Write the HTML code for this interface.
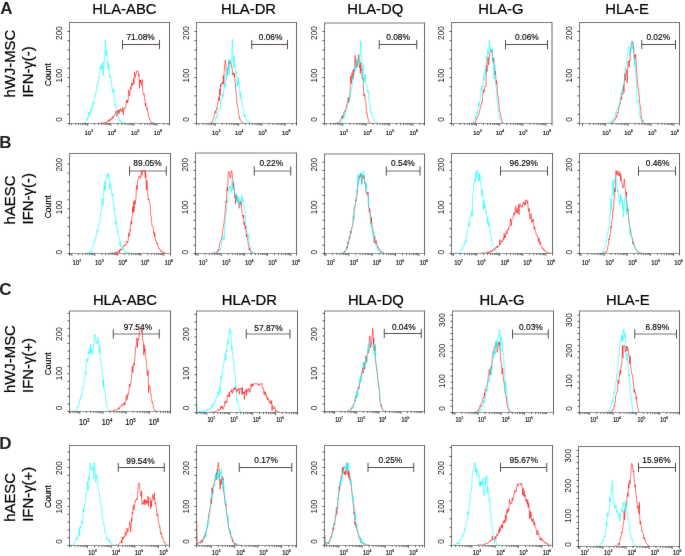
<!DOCTYPE html><html><head><meta charset="utf-8"><style>html,body{margin:0;padding:0;background:#fff;}body{width:685px;height:556px;overflow:hidden;}svg{display:block;}#w{width:685px;height:556px;}</style></head><body><div id="w"><svg width="685" height="556" viewBox="0 0 685 556" font-family='"Liberation Sans", sans-serif'>
<defs><filter id="bl" x="0" y="0" width="685" height="556" filterUnits="userSpaceOnUse" color-interpolation-filters="sRGB"><feConvolveMatrix order="3" kernelMatrix="0.00276 0.04704 0.00276 0.04704 0.80077 0.04704 0.00276 0.04704 0.00276" divisor="1" edgeMode="duplicate"/></filter></defs>
<rect width="685" height="556" fill="#fff"/>
<g filter="url(#bl)">
<text x="124.4" y="13.9" font-size="14.8" text-anchor="middle" fill="#000" stroke="#000" stroke-width="0.22">HLA-ABC</text>
<text x="248.5" y="13.9" font-size="14.8" text-anchor="middle" fill="#000" stroke="#000" stroke-width="0.22">HLA-DR</text>
<text x="375.25" y="13.9" font-size="14.8" text-anchor="middle" fill="#000" stroke="#000" stroke-width="0.22">HLA-DQ</text>
<text x="500.9" y="13.9" font-size="14.8" text-anchor="middle" fill="#000" stroke="#000" stroke-width="0.22">HLA-G</text>
<text x="627.0" y="13.9" font-size="14.8" text-anchor="middle" fill="#000" stroke="#000" stroke-width="0.22">HLA-E</text>
<text x="125.0" y="304.5" font-size="14.8" text-anchor="middle" fill="#000" stroke="#000" stroke-width="0.22">HLA-ABC</text>
<text x="249.4" y="304.5" font-size="14.8" text-anchor="middle" fill="#000" stroke="#000" stroke-width="0.22">HLA-DR</text>
<text x="375.9" y="304.5" font-size="14.8" text-anchor="middle" fill="#000" stroke="#000" stroke-width="0.22">HLA-DQ</text>
<text x="502.0" y="304.5" font-size="14.8" text-anchor="middle" fill="#000" stroke="#000" stroke-width="0.22">HLA-G</text>
<text x="627.75" y="304.5" font-size="14.8" text-anchor="middle" fill="#000" stroke="#000" stroke-width="0.22">HLA-E</text>
<text x="0.3" y="13.8" font-size="17" font-weight="bold" fill="#231f20">A</text>
<text x="-0.8" y="148.2" font-size="17" font-weight="bold" fill="#231f20">B</text>
<text x="-0.8" y="294.9" font-size="17" font-weight="bold" fill="#231f20">C</text>
<text x="-0.8" y="449.3" font-size="17" font-weight="bold" fill="#231f20">D</text>
<text transform="translate(15.4,97.6) rotate(-90)" font-size="14.9" fill="#000" stroke="#000" stroke-width="0.22">hWJ-MSC</text>
<text transform="translate(32.6,97.6) rotate(-90)" font-size="14.9" fill="#000" stroke="#000" stroke-width="0.22">IFN-γ(-)</text>
<text transform="translate(50.8,74.7) rotate(-90)" font-size="8.6" text-anchor="middle" fill="#000" stroke="#000" stroke-width="0.15">Count</text>
<text transform="translate(15.4,224.4) rotate(-90)" font-size="14.9" fill="#000" stroke="#000" stroke-width="0.22">hAESC</text>
<text transform="translate(32.6,224.4) rotate(-90)" font-size="14.9" fill="#000" stroke="#000" stroke-width="0.22">IFN-γ(-)</text>
<text transform="translate(50.8,206.9) rotate(-90)" font-size="8.6" text-anchor="middle" fill="#000" stroke="#000" stroke-width="0.15">Count</text>
<text transform="translate(15.4,393.0) rotate(-90)" font-size="14.9" fill="#000" stroke="#000" stroke-width="0.22">hWJ-MSC</text>
<text transform="translate(32.6,393.0) rotate(-90)" font-size="14.9" fill="#000" stroke="#000" stroke-width="0.22">IFN-γ(+)</text>
<text transform="translate(50.8,363.9) rotate(-90)" font-size="8.6" text-anchor="middle" fill="#000" stroke="#000" stroke-width="0.15">Count</text>
<text transform="translate(15.4,521.8) rotate(-90)" font-size="14.9" fill="#000" stroke="#000" stroke-width="0.22">hAESC</text>
<text transform="translate(32.6,521.8) rotate(-90)" font-size="14.9" fill="#000" stroke="#000" stroke-width="0.22">IFN-γ(+)</text>
<text transform="translate(50.8,496.6) rotate(-90)" font-size="8.6" text-anchor="middle" fill="#000" stroke="#000" stroke-width="0.15">Count</text>
<path d="M99.00,123.00 L99.40,123.00 L99.80,123.00 L100.20,123.00 L100.60,123.00 L101.00,123.00 L101.40,122.99 L101.80,122.98 L102.20,122.98 L102.60,123.00 L103.00,123.00 L103.40,122.87 L103.80,122.86 L104.20,122.95 L104.60,122.38 L105.00,122.70 L105.40,122.56 L105.80,123.00 L106.20,122.55 L106.60,121.77 L107.00,122.83 L107.40,121.74 L107.80,121.40 L108.20,120.41 L108.60,121.40 L109.00,119.82 L109.40,121.32 L109.80,119.07 L110.20,120.24 L110.60,119.49 L111.00,119.53 L111.40,119.66 L111.80,117.62 L112.20,118.64 L112.60,116.52 L113.00,116.81 L113.40,118.23 L113.80,116.67 L114.20,115.24 L114.60,115.80 L115.00,115.15 L115.40,113.08 L115.80,111.16 L116.20,113.59 L116.60,113.31 L117.00,116.46 L117.40,113.34 L117.80,110.02 L118.20,112.77 L118.60,110.27 L119.00,114.25 L119.40,112.29 L119.80,109.37 L120.20,110.78 L120.60,108.65 L121.00,109.99 L121.40,111.40 L121.80,110.35 L122.20,111.71 L122.60,107.62 L123.00,109.32 L123.40,115.00 L123.80,108.62 L124.20,107.63 L124.60,108.59 L125.00,108.94 L125.40,106.08 L125.80,105.83 L126.20,102.51 L126.60,99.99 L127.00,102.96 L127.40,100.26 L127.80,102.28 L128.20,100.55 L128.60,90.22 L129.00,90.23 L129.40,96.12 L129.80,95.50 L130.20,89.87 L130.60,87.04 L131.00,89.28 L131.40,84.10 L131.80,82.88 L132.20,86.18 L132.60,84.77 L133.00,82.22 L133.40,78.42 L133.80,84.54 L134.20,78.51 L134.60,72.06 L135.00,77.80 L135.40,75.96 L135.80,74.18 L136.20,74.09 L136.60,72.79 L137.00,70.77 L137.40,71.28 L137.80,70.60 L138.20,72.91 L138.60,76.19 L139.00,74.04 L139.40,88.25 L139.80,79.95 L140.20,82.49 L140.60,80.07 L141.00,83.65 L141.40,85.47 L141.80,83.78 L142.20,79.27 L142.60,89.33 L143.00,91.95 L143.40,93.41 L143.80,94.93 L144.20,93.94 L144.60,97.93 L145.00,102.10 L145.40,106.30 L145.80,103.12 L146.20,106.64 L146.60,107.78 L147.00,109.83 L147.40,108.10 L147.80,112.67 L148.20,112.74 L148.60,116.15 L149.00,117.04 L149.40,118.89 L149.80,118.86 L150.20,120.52 L150.60,121.32 L151.00,123.00 L151.40,122.87 L151.80,123.00 L152.20,122.66 L152.60,122.79 L153.00,123.00 L153.40,122.62 L153.80,123.00" fill="none" stroke="#ff0000" stroke-width="0.55" stroke-linejoin="round"/>
<path d="M82.50,123.00 L82.90,122.87 L83.30,123.00 L83.70,122.75 L84.10,122.74 L84.50,122.71 L84.90,122.63 L85.30,122.74 L85.70,122.70 L86.10,121.58 L86.50,121.24 L86.90,120.39 L87.30,118.31 L87.70,119.90 L88.10,117.76 L88.50,117.08 L88.90,111.96 L89.30,114.87 L89.70,115.98 L90.10,111.83 L90.50,112.47 L90.90,108.69 L91.30,111.01 L91.70,108.81 L92.10,105.95 L92.50,107.25 L92.90,102.28 L93.30,104.35 L93.70,104.77 L94.10,100.43 L94.50,99.82 L94.90,96.12 L95.30,96.08 L95.70,93.06 L96.10,93.92 L96.50,89.09 L96.90,85.16 L97.30,86.05 L97.70,83.43 L98.10,83.80 L98.50,79.37 L98.90,77.38 L99.30,77.62 L99.70,71.56 L100.10,69.62 L100.50,66.44 L100.90,69.41 L101.30,66.87 L101.70,64.59 L102.10,68.77 L102.50,64.91 L102.90,62.21 L103.30,75.49 L103.70,64.80 L104.10,62.41 L104.50,58.82 L104.90,53.88 L105.40,39.90 L105.70,48.10 L106.10,55.76 L106.50,49.78 L106.90,55.29 L107.30,63.57 L107.70,62.71 L108.10,68.98 L108.50,63.91 L108.90,67.11 L109.30,71.96 L109.70,76.43 L110.10,77.91 L110.50,75.68 L110.90,78.71 L111.30,84.11 L111.70,83.59 L112.10,89.27 L112.50,88.65 L112.90,92.78 L113.30,92.62 L113.70,88.94 L114.10,98.06 L114.50,101.40 L114.90,105.87 L115.30,104.18 L115.70,106.32 L116.10,106.77 L116.50,113.20 L116.90,112.43 L117.30,114.54 L117.70,115.89 L118.10,116.63 L118.50,115.97 L118.90,117.82 L119.30,119.22 L119.70,121.21 L120.10,119.51 L120.50,121.50 L120.90,120.90 L121.30,122.43 L121.70,122.33 L122.10,122.11 L122.50,122.31 L122.90,122.44 L123.30,123.00 L123.70,122.76 L124.10,123.00 L124.50,122.59 L124.90,122.70 L125.30,122.98 L125.70,123.00" fill="none" stroke="#00ffff" stroke-width="0.55" stroke-linejoin="round"/>
<path d="M69.5,22.5 H169.5" stroke="#7a7a7a" stroke-width="1" fill="none"/>
<path d="M69.5,123.5 H169.5" stroke="#9a9a9a" stroke-width="1" fill="none"/>
<path d="M69.5,22.0 V125.5" stroke="#7a7a7a" stroke-width="1" fill="none"/>
<path d="M169.5,22.0 V125.5" stroke="#666666" stroke-width="1" fill="none"/>
<path d="M67.5,123.5 H69.5 M67.5,114.3 H69.5 M67.5,105.1 H69.5 M67.5,95.9 H69.5 M67.5,86.7 H69.5 M67.5,77.5 H69.5 M67.5,68.3 H69.5 M67.5,59.1 H69.5 M67.5,49.9 H69.5 M67.5,40.7 H69.5 M67.5,31.5 H69.5" stroke="#333" stroke-width="0.8" fill="none"/>
<text transform="translate(62.3,33.0) rotate(-90)" font-size="8.3" text-anchor="middle" fill="#222">200</text>
<text transform="translate(62.3,75.5) rotate(-90)" font-size="8.3" text-anchor="middle" fill="#222">100</text>
<text transform="translate(62.3,119.4) rotate(-90)" font-size="8.3" text-anchor="middle" fill="#222">0</text>
<path d="M71.6,123.5 V125.1 M75.7,123.5 V125.1 M78.6,123.5 V125.1 M80.8,123.5 V125.1 M82.6,123.5 V125.1 M84.2,123.5 V125.1 M85.5,123.5 V125.1 M86.7,123.5 V125.1 M94.7,123.5 V125.1 M98.7,123.5 V125.1 M101.6,123.5 V125.1 M103.9,123.5 V125.1 M105.7,123.5 V125.1 M107.2,123.5 V125.1 M108.6,123.5 V125.1 M109.7,123.5 V125.1 M87.8,123.5 V126.0 M117.7,123.5 V125.1 M121.8,123.5 V125.1 M124.7,123.5 V125.1 M126.9,123.5 V125.1 M128.7,123.5 V125.1 M130.3,123.5 V125.1 M131.6,123.5 V125.1 M132.8,123.5 V125.1 M110.8,123.5 V126.0 M140.8,123.5 V125.1 M144.8,123.5 V125.1 M147.7,123.5 V125.1 M149.9,123.5 V125.1 M151.8,123.5 V125.1 M153.3,123.5 V125.1 M154.6,123.5 V125.1 M155.8,123.5 V125.1 M133.8,123.5 V126.0 M163.8,123.5 V125.1 M167.9,123.5 V125.1 M156.9,123.5 V126.0" stroke="#333" stroke-width="0.7" fill="none"/>
<text transform="translate(88.75,134.93) scale(0.95,1)" font-size="6.2" text-anchor="middle" fill="#000" stroke="#000" stroke-width="0.15">10<tspan font-size="3.72" dy="-2.48">3</tspan></text>
<text transform="translate(111.75,134.93) scale(0.95,1)" font-size="6.2" text-anchor="middle" fill="#000" stroke="#000" stroke-width="0.15">10<tspan font-size="3.72" dy="-2.48">4</tspan></text>
<text transform="translate(135.25,134.93) scale(0.95,1)" font-size="6.2" text-anchor="middle" fill="#000" stroke="#000" stroke-width="0.15">10<tspan font-size="3.72" dy="-2.48">5</tspan></text>
<text transform="translate(157.88,134.93) scale(0.95,1)" font-size="6.2" text-anchor="middle" fill="#000" stroke="#000" stroke-width="0.15">10<tspan font-size="3.72" dy="-2.48">6</tspan></text>
<path d="M122.5,44.5 H159.5" stroke="#5a4c4c" stroke-width="1" fill="none"/>
<path d="M122.5,39.9 V49.1 M159.5,39.9 V49.1" stroke="#5a4c4c" stroke-width="1" fill="none"/>
<text transform="translate(140.6,39.95) scale(0.9,1)" font-size="9.3" text-anchor="middle" fill="#000" stroke="#000" stroke-width="0.15">71.08%</text>
<path d="M209.00,123.00 L209.40,123.00 L209.80,123.00 L210.20,123.00 L210.60,123.00 L211.00,123.00 L211.40,122.98 L211.80,122.19 L212.20,121.18 L212.60,119.98 L213.00,119.71 L213.40,118.41 L213.80,117.42 L214.20,116.59 L214.60,114.76 L215.00,111.56 L215.40,110.96 L215.80,113.11 L216.20,110.67 L216.60,108.25 L217.00,109.01 L217.40,105.37 L217.80,102.41 L218.20,102.48 L218.60,97.11 L219.00,96.65 L219.40,100.82 L219.80,88.75 L220.20,95.48 L220.60,84.41 L221.00,86.72 L221.40,83.34 L221.80,82.93 L222.20,82.26 L222.60,83.93 L223.00,80.99 L223.40,75.52 L223.80,84.55 L224.20,70.91 L224.60,65.48 L225.00,63.57 L225.30,59.90 L225.80,63.73 L226.20,71.56 L226.60,71.97 L227.00,73.21 L227.40,74.90 L227.80,68.90 L228.20,67.99 L228.60,62.93 L229.00,61.86 L229.40,61.02 L229.80,64.11 L230.20,61.31 L230.80,61.60 L231.40,66.85 L231.80,66.47 L232.20,68.74 L232.60,74.98 L233.00,73.85 L233.40,72.68 L233.80,74.88 L234.20,77.06 L234.60,73.49 L235.00,81.70 L235.40,82.17 L235.80,89.72 L236.20,93.93 L236.60,96.70 L237.00,104.15 L237.40,105.60 L237.80,107.74 L238.20,110.07 L238.60,113.52 L239.00,115.09 L239.40,118.46 L239.80,117.39 L240.20,119.59 L240.60,120.14 L241.00,120.48 L241.40,122.02 L241.80,122.03 L242.20,122.64 L242.60,122.99 L243.00,123.00 L243.40,123.00 L243.80,123.00" fill="none" stroke="#ff0000" stroke-width="0.55" stroke-linejoin="round"/>
<path d="M210.50,123.00 L210.90,123.00 L211.30,123.00 L211.70,123.00 L212.10,123.00 L212.50,123.00 L212.90,123.00 L213.30,122.91 L213.70,122.76 L214.10,121.33 L214.50,121.09 L214.90,121.46 L215.30,120.00 L215.70,118.61 L216.10,117.32 L216.50,116.89 L216.90,118.02 L217.30,114.06 L217.70,115.27 L218.10,111.66 L218.50,109.76 L218.90,109.73 L219.30,109.07 L219.70,109.34 L220.10,107.81 L220.50,104.68 L220.90,100.68 L221.30,101.15 L221.70,98.04 L222.10,98.33 L222.50,93.69 L222.90,97.18 L223.30,94.27 L223.70,90.10 L224.10,89.18 L224.50,83.40 L224.90,87.36 L225.30,85.44 L225.70,86.20 L226.10,74.67 L226.50,79.34 L226.90,75.38 L227.30,67.18 L227.70,75.02 L228.10,68.41 L228.50,68.79 L228.90,58.93 L229.30,74.77 L229.70,64.39 L230.10,62.07 L230.50,60.20 L230.90,61.32 L231.30,59.65 L231.70,58.17 L232.10,44.87 L232.50,39.40 L232.90,48.28 L233.30,67.57 L233.70,57.52 L234.10,55.54 L234.50,61.67 L234.90,66.99 L235.30,65.77 L235.70,74.16 L236.10,71.74 L236.50,71.73 L236.90,73.88 L237.30,86.75 L237.70,80.32 L238.10,77.48 L238.50,84.51 L238.90,81.73 L239.30,85.80 L239.70,89.84 L240.10,96.82 L240.50,92.33 L240.90,98.74 L241.30,97.32 L241.70,100.51 L242.10,101.83 L242.50,106.65 L242.90,107.64 L243.30,109.45 L243.70,111.12 L244.10,117.01 L244.50,114.27 L244.90,114.79 L245.30,115.73 L245.70,117.73 L246.10,118.77 L246.50,119.75 L246.90,120.00 L247.30,121.46 L247.70,121.01 L248.10,121.72 L248.50,121.91 L248.90,121.57 L249.30,122.62 L249.70,122.33 L250.10,122.51 L250.50,122.87 L250.90,122.94 L251.30,123.00 L251.70,122.97" fill="none" stroke="#00ffff" stroke-width="0.55" stroke-linejoin="round"/>
<path d="M196.5,22.5 H296.5" stroke="#7a7a7a" stroke-width="1" fill="none"/>
<path d="M196.5,123.5 H296.5" stroke="#9a9a9a" stroke-width="1" fill="none"/>
<path d="M196.5,22.0 V125.5" stroke="#7a7a7a" stroke-width="1" fill="none"/>
<path d="M296.5,22.0 V125.5" stroke="#666666" stroke-width="1" fill="none"/>
<path d="M194.5,123.5 H196.5 M194.5,114.3 H196.5 M194.5,105.1 H196.5 M194.5,95.9 H196.5 M194.5,86.7 H196.5 M194.5,77.5 H196.5 M194.5,68.3 H196.5 M194.5,59.1 H196.5 M194.5,49.9 H196.5 M194.5,40.7 H196.5 M194.5,31.5 H196.5" stroke="#333" stroke-width="0.8" fill="none"/>
<text transform="translate(189.3,33.0) rotate(-90)" font-size="8.3" text-anchor="middle" fill="#222">200</text>
<text transform="translate(189.3,75.5) rotate(-90)" font-size="8.3" text-anchor="middle" fill="#222">100</text>
<text transform="translate(189.3,119.4) rotate(-90)" font-size="8.3" text-anchor="middle" fill="#222">0</text>
<path d="M198.9,123.5 V125.1 M203.0,123.5 V125.1 M206.0,123.5 V125.1 M208.2,123.5 V125.1 M210.1,123.5 V125.1 M211.6,123.5 V125.1 M213.0,123.5 V125.1 M214.2,123.5 V125.1 M222.3,123.5 V125.1 M226.4,123.5 V125.1 M229.3,123.5 V125.1 M231.6,123.5 V125.1 M233.4,123.5 V125.1 M235.0,123.5 V125.1 M236.3,123.5 V125.1 M237.5,123.5 V125.1 M215.2,123.5 V126.0 M245.6,123.5 V125.1 M249.7,123.5 V125.1 M252.6,123.5 V125.1 M254.9,123.5 V125.1 M256.7,123.5 V125.1 M258.3,123.5 V125.1 M259.7,123.5 V125.1 M260.8,123.5 V125.1 M238.6,123.5 V126.0 M268.9,123.5 V125.1 M273.0,123.5 V125.1 M276.0,123.5 V125.1 M278.2,123.5 V125.1 M280.1,123.5 V125.1 M281.6,123.5 V125.1 M283.0,123.5 V125.1 M284.2,123.5 V125.1 M261.9,123.5 V126.0 M292.3,123.5 V125.1 M296.4,123.5 V125.1 M285.2,123.5 V126.0" stroke="#333" stroke-width="0.7" fill="none"/>
<text transform="translate(216.25,134.93) scale(0.95,1)" font-size="6.2" text-anchor="middle" fill="#000" stroke="#000" stroke-width="0.15">10<tspan font-size="3.72" dy="-2.48">3</tspan></text>
<text transform="translate(239.25,134.93) scale(0.95,1)" font-size="6.2" text-anchor="middle" fill="#000" stroke="#000" stroke-width="0.15">10<tspan font-size="3.72" dy="-2.48">4</tspan></text>
<text transform="translate(262.50,134.93) scale(0.95,1)" font-size="6.2" text-anchor="middle" fill="#000" stroke="#000" stroke-width="0.15">10<tspan font-size="3.72" dy="-2.48">5</tspan></text>
<text transform="translate(286.25,134.93) scale(0.95,1)" font-size="6.2" text-anchor="middle" fill="#000" stroke="#000" stroke-width="0.15">10<tspan font-size="3.72" dy="-2.48">6</tspan></text>
<path d="M251.75,44.5 H287.5" stroke="#5a4c4c" stroke-width="1" fill="none"/>
<path d="M251.75,39.9 V49.1 M287.5,39.9 V49.1" stroke="#5a4c4c" stroke-width="1" fill="none"/>
<text transform="translate(270.6,39.85) scale(0.9,1)" font-size="9.3" text-anchor="middle" fill="#000" stroke="#000" stroke-width="0.15">0.06%</text>
<path d="M335.50,123.00 L335.90,123.00 L336.30,123.00 L336.70,123.00 L337.10,123.00 L337.50,122.97 L337.90,122.79 L338.30,122.69 L338.70,122.54 L339.10,121.86 L339.50,121.32 L339.90,120.27 L340.30,119.38 L340.70,118.90 L341.10,118.54 L341.50,118.20 L341.90,116.02 L342.30,118.60 L342.70,115.75 L343.10,116.97 L343.50,114.17 L343.90,111.80 L344.30,112.04 L344.70,111.34 L345.10,112.36 L345.50,109.27 L345.90,109.06 L346.30,105.57 L346.70,106.06 L347.10,103.88 L347.50,103.75 L347.90,98.66 L348.30,97.30 L348.70,102.59 L349.10,97.96 L349.50,97.81 L349.90,94.85 L350.30,84.56 L350.70,75.99 L351.10,81.92 L351.50,83.69 L351.90,73.22 L352.30,78.89 L352.70,76.48 L353.10,70.00 L353.50,77.94 L353.90,69.33 L354.30,71.42 L354.70,64.68 L355.10,55.38 L355.50,63.86 L355.90,65.87 L356.30,67.87 L356.70,59.78 L357.10,66.33 L357.50,64.58 L357.90,65.23 L358.30,57.95 L358.60,54.70 L359.10,59.24 L359.50,67.49 L359.90,65.25 L360.30,73.38 L360.70,62.38 L361.10,69.93 L361.50,68.79 L361.90,76.13 L362.30,79.21 L362.70,78.15 L363.10,80.18 L363.50,88.05 L363.90,96.00 L364.30,95.68 L364.70,93.89 L365.10,100.12 L365.50,100.77 L365.90,102.29 L366.30,108.56 L366.70,113.33 L367.10,113.00 L367.50,115.74 L367.90,117.97 L368.30,120.13 L368.70,120.28 L369.10,121.75 L369.50,122.61 L369.90,123.00 L370.30,123.00 L370.70,123.00" fill="none" stroke="#ff0000" stroke-width="0.55" stroke-linejoin="round"/>
<path d="M336.50,123.00 L336.90,123.00 L337.30,123.00 L337.70,123.00 L338.10,123.00 L338.50,123.00 L338.90,122.99 L339.30,122.80 L339.70,122.84 L340.10,122.84 L340.50,122.33 L340.90,121.03 L341.30,122.06 L341.70,121.29 L342.10,120.44 L342.50,119.66 L342.90,119.76 L343.30,117.51 L343.70,115.59 L344.10,118.23 L344.50,114.35 L344.90,113.11 L345.30,114.92 L345.70,113.07 L346.10,111.27 L346.50,110.23 L346.90,110.92 L347.30,109.35 L347.70,105.23 L348.10,104.64 L348.50,102.78 L348.90,100.61 L349.30,97.24 L349.70,101.50 L350.10,93.93 L350.50,94.99 L350.90,93.64 L351.30,90.07 L351.70,89.07 L352.10,84.94 L352.50,80.45 L352.90,76.07 L353.30,80.01 L353.70,73.80 L354.10,74.17 L354.50,74.08 L354.90,66.31 L355.30,70.61 L355.70,71.10 L356.10,69.70 L356.50,58.77 L356.90,67.10 L357.30,67.41 L357.70,60.46 L358.10,61.04 L358.50,62.53 L358.90,62.76 L359.30,58.35 L359.70,62.87 L360.10,51.22 L360.70,41.00 L361.30,54.65 L361.70,58.90 L362.10,62.94 L362.50,75.56 L362.90,67.95 L363.30,64.49 L363.70,82.20 L364.10,75.86 L364.50,81.84 L364.90,78.19 L365.30,74.04 L365.70,83.09 L366.10,84.44 L366.50,83.73 L366.90,85.01 L367.30,91.49 L367.70,92.81 L368.10,90.34 L368.50,92.60 L368.90,100.33 L369.30,102.15 L369.70,105.32 L370.10,105.22 L370.50,110.96 L370.90,112.96 L371.30,112.12 L371.70,111.94 L372.10,116.68 L372.50,116.66 L372.90,117.33 L373.30,117.71 L373.70,119.68 L374.10,119.36 L374.50,121.60 L374.90,121.86 L375.30,122.27 L375.70,122.61 L376.10,123.00 L376.50,123.00 L376.90,123.00 L377.30,123.00 L377.70,123.00" fill="none" stroke="#00ffff" stroke-width="0.55" stroke-linejoin="round"/>
<path d="M324.5,23.0 H424.5" stroke="#7a7a7a" stroke-width="1" fill="none"/>
<path d="M324.5,123.5 H424.5" stroke="#9a9a9a" stroke-width="1" fill="none"/>
<path d="M324.5,22.5 V125.5" stroke="#7a7a7a" stroke-width="1" fill="none"/>
<path d="M424.5,22.5 V125.5" stroke="#666666" stroke-width="1" fill="none"/>
<path d="M322.5,123.5 H324.5 M322.5,114.3 H324.5 M322.5,105.1 H324.5 M322.5,95.9 H324.5 M322.5,86.7 H324.5 M322.5,77.5 H324.5 M322.5,68.3 H324.5 M322.5,59.1 H324.5 M322.5,49.9 H324.5 M322.5,40.7 H324.5 M322.5,31.5 H324.5" stroke="#333" stroke-width="0.8" fill="none"/>
<text transform="translate(317.3,33.0) rotate(-90)" font-size="8.3" text-anchor="middle" fill="#222">200</text>
<text transform="translate(317.3,75.5) rotate(-90)" font-size="8.3" text-anchor="middle" fill="#222">100</text>
<text transform="translate(317.3,119.4) rotate(-90)" font-size="8.3" text-anchor="middle" fill="#222">0</text>
<path d="M326.4,123.5 V125.1 M330.5,123.5 V125.1 M333.5,123.5 V125.1 M335.7,123.5 V125.1 M337.6,123.5 V125.1 M339.1,123.5 V125.1 M340.5,123.5 V125.1 M341.7,123.5 V125.1 M349.8,123.5 V125.1 M353.9,123.5 V125.1 M356.8,123.5 V125.1 M359.1,123.5 V125.1 M360.9,123.5 V125.1 M362.5,123.5 V125.1 M363.8,123.5 V125.1 M365.0,123.5 V125.1 M342.8,123.5 V126.0 M373.1,123.5 V125.1 M377.2,123.5 V125.1 M380.1,123.5 V125.1 M382.4,123.5 V125.1 M384.2,123.5 V125.1 M385.8,123.5 V125.1 M387.2,123.5 V125.1 M388.3,123.5 V125.1 M366.1,123.5 V126.0 M396.4,123.5 V125.1 M400.5,123.5 V125.1 M403.5,123.5 V125.1 M405.7,123.5 V125.1 M407.6,123.5 V125.1 M409.1,123.5 V125.1 M410.5,123.5 V125.1 M411.7,123.5 V125.1 M389.4,123.5 V126.0 M419.8,123.5 V125.1 M423.9,123.5 V125.1 M412.8,123.5 V126.0" stroke="#333" stroke-width="0.7" fill="none"/>
<text transform="translate(343.75,134.93) scale(0.95,1)" font-size="6.2" text-anchor="middle" fill="#000" stroke="#000" stroke-width="0.15">10<tspan font-size="3.72" dy="-2.48">3</tspan></text>
<text transform="translate(367.50,134.93) scale(0.95,1)" font-size="6.2" text-anchor="middle" fill="#000" stroke="#000" stroke-width="0.15">10<tspan font-size="3.72" dy="-2.48">4</tspan></text>
<text transform="translate(390.00,134.93) scale(0.95,1)" font-size="6.2" text-anchor="middle" fill="#000" stroke="#000" stroke-width="0.15">10<tspan font-size="3.72" dy="-2.48">5</tspan></text>
<text transform="translate(413.75,134.93) scale(0.95,1)" font-size="6.2" text-anchor="middle" fill="#000" stroke="#000" stroke-width="0.15">10<tspan font-size="3.72" dy="-2.48">6</tspan></text>
<path d="M379.25,44.5 H416.75" stroke="#5a4c4c" stroke-width="1" fill="none"/>
<path d="M379.25,39.9 V49.1 M416.75,39.9 V49.1" stroke="#5a4c4c" stroke-width="1" fill="none"/>
<text transform="translate(398.1,39.85) scale(0.9,1)" font-size="9.3" text-anchor="middle" fill="#000" stroke="#000" stroke-width="0.15">0.08%</text>
<path d="M473.00,123.00 L473.40,123.00 L473.80,123.00 L474.20,123.00 L474.60,123.00 L475.00,122.99 L475.40,121.95 L475.80,122.05 L476.20,119.45 L476.60,117.95 L477.00,118.41 L477.40,116.95 L477.80,116.31 L478.20,115.38 L478.60,114.55 L479.00,114.34 L479.40,110.58 L479.80,110.15 L480.20,108.28 L480.60,105.98 L481.00,104.58 L481.40,104.52 L481.80,102.06 L482.20,102.47 L482.60,97.57 L483.00,91.88 L483.40,89.57 L483.80,92.45 L484.20,91.91 L484.60,87.77 L485.00,86.30 L485.40,86.12 L485.80,86.63 L486.20,76.30 L486.60,65.05 L487.00,71.74 L487.40,62.68 L487.80,58.36 L488.20,56.98 L488.60,64.91 L489.00,59.88 L489.40,56.03 L489.80,54.02 L490.20,52.40 L490.60,51.46 L491.00,50.50 L491.40,51.81 L491.80,50.08 L492.20,51.60 L492.60,61.53 L493.00,59.30 L493.40,62.28 L493.80,57.95 L494.20,63.45 L494.60,65.38 L495.00,74.69 L495.40,71.15 L495.80,77.19 L496.20,84.40 L496.60,80.53 L497.00,82.29 L497.40,91.63 L497.80,95.14 L498.20,98.60 L498.60,101.02 L499.00,105.37 L499.40,110.31 L499.80,111.41 L500.20,112.69 L500.60,115.18 L501.00,117.07 L501.40,119.34 L501.80,119.05 L502.20,122.03 L502.60,122.57 L503.00,123.00 L503.40,123.00 L503.80,123.00 L504.20,123.00" fill="none" stroke="#ff0000" stroke-width="0.55" stroke-linejoin="round"/>
<path d="M470.00,123.00 L470.40,123.00 L470.80,123.00 L471.20,123.00 L471.60,123.00 L472.00,123.00 L472.40,123.00 L472.80,123.00 L473.20,122.38 L473.60,121.36 L474.00,120.21 L474.40,119.82 L474.80,119.82 L475.20,118.38 L475.60,116.15 L476.00,117.48 L476.40,116.27 L476.80,111.90 L477.20,114.06 L477.60,110.58 L478.00,107.07 L478.40,105.87 L478.80,102.70 L479.20,105.92 L479.60,103.35 L480.00,100.67 L480.40,98.23 L480.80,92.60 L481.20,87.42 L481.60,90.42 L482.00,85.17 L482.40,86.68 L482.80,86.89 L483.20,82.09 L483.60,75.40 L484.00,80.21 L484.40,72.13 L484.80,71.75 L485.20,69.33 L485.60,75.19 L486.00,62.21 L486.40,56.53 L486.80,57.92 L487.20,59.17 L487.60,49.00 L488.00,49.44 L488.40,54.46 L488.80,50.16 L489.30,40.20 L489.60,42.71 L490.00,51.17 L490.40,50.46 L490.80,48.67 L491.40,47.10 L492.00,51.19 L492.40,49.20 L492.80,61.87 L493.20,57.32 L493.60,64.71 L494.00,78.83 L494.40,63.37 L494.80,67.29 L495.20,76.13 L495.60,81.04 L496.00,80.96 L496.40,92.02 L496.80,94.38 L497.20,101.48 L497.60,103.03 L498.00,107.27 L498.40,109.76 L498.80,112.83 L499.20,118.10 L499.60,118.81 L500.00,118.59 L500.40,119.58 L500.80,121.11 L501.20,121.49 L501.60,123.00 L502.00,122.95 L502.40,123.00 L502.80,123.00 L503.20,123.00" fill="none" stroke="#00ffff" stroke-width="0.55" stroke-linejoin="round"/>
<path d="M451.5,22.5 H552.0" stroke="#7a7a7a" stroke-width="1" fill="none"/>
<path d="M451.5,123.5 H552.0" stroke="#9a9a9a" stroke-width="1" fill="none"/>
<path d="M451.5,22.0 V125.5" stroke="#7a7a7a" stroke-width="1" fill="none"/>
<path d="M552.0,22.0 V125.5" stroke="#666666" stroke-width="1" fill="none"/>
<path d="M449.5,123.5 H451.5 M449.5,114.3 H451.5 M449.5,105.1 H451.5 M449.5,95.9 H451.5 M449.5,86.7 H451.5 M449.5,77.5 H451.5 M449.5,68.3 H451.5 M449.5,59.1 H451.5 M449.5,49.9 H451.5 M449.5,40.7 H451.5 M449.5,31.5 H451.5" stroke="#333" stroke-width="0.8" fill="none"/>
<text transform="translate(444.3,33.0) rotate(-90)" font-size="8.3" text-anchor="middle" fill="#222">200</text>
<text transform="translate(444.3,75.5) rotate(-90)" font-size="8.3" text-anchor="middle" fill="#222">100</text>
<text transform="translate(444.3,119.4) rotate(-90)" font-size="8.3" text-anchor="middle" fill="#222">0</text>
<path d="M460.3,123.5 V125.1 M464.4,123.5 V125.1 M467.3,123.5 V125.1 M469.5,123.5 V125.1 M471.4,123.5 V125.1 M472.9,123.5 V125.1 M474.3,123.5 V125.1 M475.4,123.5 V125.1 M453.3,123.5 V126.0 M483.5,123.5 V125.1 M487.6,123.5 V125.1 M490.4,123.5 V125.1 M492.7,123.5 V125.1 M494.5,123.5 V125.1 M496.1,123.5 V125.1 M497.4,123.5 V125.1 M498.6,123.5 V125.1 M476.5,123.5 V126.0 M506.6,123.5 V125.1 M510.7,123.5 V125.1 M513.6,123.5 V125.1 M515.9,123.5 V125.1 M517.7,123.5 V125.1 M519.2,123.5 V125.1 M520.6,123.5 V125.1 M521.8,123.5 V125.1 M499.7,123.5 V126.0 M529.8,123.5 V125.1 M533.9,123.5 V125.1 M536.8,123.5 V125.1 M539.0,123.5 V125.1 M540.9,123.5 V125.1 M542.4,123.5 V125.1 M543.8,123.5 V125.1 M544.9,123.5 V125.1 M522.8,123.5 V126.0 M546.0,123.5 V126.0" stroke="#333" stroke-width="0.7" fill="none"/>
<text transform="translate(477.50,134.93) scale(0.95,1)" font-size="6.2" text-anchor="middle" fill="#000" stroke="#000" stroke-width="0.15">10<tspan font-size="3.72" dy="-2.48">3</tspan></text>
<text transform="translate(500.00,134.93) scale(0.95,1)" font-size="6.2" text-anchor="middle" fill="#000" stroke="#000" stroke-width="0.15">10<tspan font-size="3.72" dy="-2.48">4</tspan></text>
<text transform="translate(523.12,134.93) scale(0.95,1)" font-size="6.2" text-anchor="middle" fill="#000" stroke="#000" stroke-width="0.15">10<tspan font-size="3.72" dy="-2.48">5</tspan></text>
<text transform="translate(547.00,134.93) scale(0.95,1)" font-size="6.2" text-anchor="middle" fill="#000" stroke="#000" stroke-width="0.15">10<tspan font-size="3.72" dy="-2.48">6</tspan></text>
<path d="M505.5,44.5 H547.5" stroke="#5a4c4c" stroke-width="1" fill="none"/>
<path d="M505.5,39.9 V49.1 M547.5,39.9 V49.1" stroke="#5a4c4c" stroke-width="1" fill="none"/>
<text transform="translate(526.9,39.85) scale(0.9,1)" font-size="9.3" text-anchor="middle" fill="#000" stroke="#000" stroke-width="0.15">0.06%</text>
<path d="M610.00,123.00 L610.40,123.00 L610.80,123.00 L611.20,123.00 L611.60,123.00 L612.00,122.98 L612.40,122.82 L612.80,122.31 L613.20,122.20 L613.60,121.91 L614.00,120.24 L614.40,119.81 L614.80,120.25 L615.20,119.46 L615.60,117.99 L616.00,117.67 L616.40,116.09 L616.80,117.43 L617.20,114.45 L617.60,112.56 L618.00,113.02 L618.40,110.66 L618.80,108.11 L619.20,106.71 L619.60,105.66 L620.00,104.05 L620.40,102.92 L620.80,100.56 L621.20,97.03 L621.60,99.28 L622.00,94.29 L622.40,92.93 L622.80,94.26 L623.20,89.96 L623.60,85.42 L624.00,92.51 L624.40,80.16 L624.80,73.51 L625.20,80.66 L625.60,76.83 L626.00,73.82 L626.40,69.86 L626.80,70.00 L627.20,83.17 L627.60,73.23 L628.00,64.60 L628.40,61.08 L628.80,62.16 L629.20,67.30 L629.60,59.78 L630.00,60.95 L630.40,52.99 L630.80,47.84 L631.20,43.48 L631.60,42.85 L632.10,41.10 L632.40,42.22 L632.80,42.68 L633.20,49.08 L633.60,46.19 L634.00,54.36 L634.40,59.74 L634.80,55.57 L635.20,57.16 L635.60,54.10 L636.00,59.55 L636.40,66.31 L636.80,73.18 L637.20,78.05 L637.60,82.14 L638.00,87.53 L638.40,88.91 L638.80,94.07 L639.20,94.80 L639.60,101.84 L640.00,104.48 L640.40,106.50 L640.80,109.78 L641.20,114.95 L641.60,117.65 L642.00,119.12 L642.40,121.18 L642.80,120.24 L643.20,122.73 L643.60,123.00 L644.00,123.00 L644.40,123.00 L644.80,123.00" fill="none" stroke="#ff0000" stroke-width="0.55" stroke-linejoin="round"/>
<path d="M607.00,123.00 L607.40,123.00 L607.80,123.00 L608.20,123.00 L608.60,123.00 L609.00,123.00 L609.40,123.00 L609.80,122.94 L610.20,122.67 L610.60,122.69 L611.00,121.98 L611.40,121.17 L611.80,122.76 L612.20,120.47 L612.60,120.66 L613.00,119.73 L613.40,117.96 L613.80,119.96 L614.20,117.53 L614.60,117.18 L615.00,116.53 L615.40,116.47 L615.80,111.64 L616.20,112.88 L616.60,112.16 L617.00,109.82 L617.40,108.69 L617.80,107.09 L618.20,108.24 L618.60,108.08 L619.00,102.70 L619.40,103.16 L619.80,101.40 L620.20,100.42 L620.60,95.68 L621.00,93.21 L621.40,92.07 L621.80,95.11 L622.20,89.27 L622.60,91.28 L623.00,85.23 L623.40,83.91 L623.80,82.85 L624.20,83.16 L624.60,76.00 L625.00,73.29 L625.40,68.42 L625.80,70.06 L626.20,63.76 L626.60,63.58 L627.00,59.59 L627.40,58.55 L627.80,55.81 L628.20,48.19 L628.50,46.20 L629.00,51.49 L629.40,51.85 L629.80,55.03 L630.20,52.50 L630.60,48.34 L631.00,51.50 L631.40,49.31 L631.80,43.10 L632.40,41.90 L633.00,46.54 L633.40,42.18 L633.80,53.03 L634.20,54.12 L634.60,66.72 L635.00,58.51 L635.40,68.87 L635.80,75.81 L636.20,78.07 L636.60,85.65 L637.00,99.01 L637.40,102.05 L637.80,100.93 L638.20,101.20 L638.60,105.47 L639.00,107.46 L639.40,110.44 L639.80,113.13 L640.20,118.22 L640.60,116.20 L641.00,120.10 L641.40,122.35 L641.80,123.00 L642.20,123.00 L642.60,123.00 L643.00,123.00" fill="none" stroke="#00ffff" stroke-width="0.55" stroke-linejoin="round"/>
<path d="M579.5,22.5 H679.5" stroke="#7a7a7a" stroke-width="1" fill="none"/>
<path d="M579.5,123.5 H679.5" stroke="#9a9a9a" stroke-width="1" fill="none"/>
<path d="M579.5,22.0 V125.5" stroke="#7a7a7a" stroke-width="1" fill="none"/>
<path d="M679.5,22.0 V125.5" stroke="#666666" stroke-width="1" fill="none"/>
<path d="M577.5,123.5 H579.5 M577.5,114.3 H579.5 M577.5,105.1 H579.5 M577.5,95.9 H579.5 M577.5,86.7 H579.5 M577.5,77.5 H579.5 M577.5,68.3 H579.5 M577.5,59.1 H579.5 M577.5,49.9 H579.5 M577.5,40.7 H579.5 M577.5,31.5 H579.5" stroke="#333" stroke-width="0.8" fill="none"/>
<text transform="translate(572.3,33.0) rotate(-90)" font-size="8.3" text-anchor="middle" fill="#222">200</text>
<text transform="translate(572.3,75.5) rotate(-90)" font-size="8.3" text-anchor="middle" fill="#222">100</text>
<text transform="translate(572.3,119.4) rotate(-90)" font-size="8.3" text-anchor="middle" fill="#222">0</text>
<path d="M589.4,123.5 V125.1 M593.5,123.5 V125.1 M596.3,123.5 V125.1 M598.5,123.5 V125.1 M600.3,123.5 V125.1 M601.8,123.5 V125.1 M603.2,123.5 V125.1 M604.3,123.5 V125.1 M582.6,123.5 V126.0 M612.2,123.5 V125.1 M616.2,123.5 V125.1 M619.1,123.5 V125.1 M621.3,123.5 V125.1 M623.1,123.5 V125.1 M624.6,123.5 V125.1 M626.0,123.5 V125.1 M627.1,123.5 V125.1 M605.4,123.5 V126.0 M635.0,123.5 V125.1 M639.0,123.5 V125.1 M641.9,123.5 V125.1 M644.1,123.5 V125.1 M645.9,123.5 V125.1 M647.4,123.5 V125.1 M648.7,123.5 V125.1 M649.9,123.5 V125.1 M628.2,123.5 V126.0 M657.8,123.5 V125.1 M661.8,123.5 V125.1 M664.7,123.5 V125.1 M666.9,123.5 V125.1 M668.7,123.5 V125.1 M670.2,123.5 V125.1 M671.5,123.5 V125.1 M672.7,123.5 V125.1 M651.0,123.5 V126.0 M673.8,123.5 V126.0" stroke="#333" stroke-width="0.7" fill="none"/>
<text transform="translate(606.38,134.93) scale(0.95,1)" font-size="6.2" text-anchor="middle" fill="#000" stroke="#000" stroke-width="0.15">10<tspan font-size="3.72" dy="-2.48">3</tspan></text>
<text transform="translate(628.50,134.93) scale(0.95,1)" font-size="6.2" text-anchor="middle" fill="#000" stroke="#000" stroke-width="0.15">10<tspan font-size="3.72" dy="-2.48">4</tspan></text>
<text transform="translate(652.25,134.93) scale(0.95,1)" font-size="6.2" text-anchor="middle" fill="#000" stroke="#000" stroke-width="0.15">10<tspan font-size="3.72" dy="-2.48">5</tspan></text>
<text transform="translate(674.75,134.93) scale(0.95,1)" font-size="6.2" text-anchor="middle" fill="#000" stroke="#000" stroke-width="0.15">10<tspan font-size="3.72" dy="-2.48">6</tspan></text>
<path d="M641.75,44.5 H675.5" stroke="#5a4c4c" stroke-width="1" fill="none"/>
<path d="M641.75,39.9 V49.1 M675.5,39.9 V49.1" stroke="#5a4c4c" stroke-width="1" fill="none"/>
<text transform="translate(658.25,39.85) scale(0.9,1)" font-size="9.3" text-anchor="middle" fill="#000" stroke="#000" stroke-width="0.15">0.02%</text>
<path d="M110.00,253.00 L110.40,253.00 L110.80,253.00 L111.20,253.00 L111.60,253.00 L112.00,253.00 L112.40,253.00 L112.80,253.00 L113.20,253.00 L113.60,252.92 L114.00,252.90 L114.40,252.87 L114.80,252.84 L115.20,252.80 L115.60,251.99 L116.00,252.63 L116.40,251.74 L116.80,252.11 L117.20,253.00 L117.60,251.68 L118.00,251.30 L118.40,251.94 L118.80,250.97 L119.20,249.95 L119.60,252.88 L120.00,249.59 L120.40,250.36 L120.80,248.80 L121.20,250.00 L121.60,249.10 L122.00,248.84 L122.40,248.14 L122.80,248.33 L123.20,247.78 L123.60,246.38 L124.00,244.94 L124.40,245.75 L124.80,246.31 L125.20,244.82 L125.60,244.10 L126.00,244.90 L126.40,241.28 L126.80,241.30 L127.20,241.55 L127.60,242.96 L128.00,241.03 L128.40,237.29 L128.80,232.80 L129.20,236.54 L129.60,234.33 L130.00,229.77 L130.40,230.87 L130.80,222.50 L131.20,221.08 L131.60,224.10 L132.00,215.45 L132.40,215.13 L132.80,206.60 L133.20,212.62 L133.60,201.58 L134.00,211.64 L134.40,204.15 L134.80,200.17 L135.20,204.25 L135.60,200.81 L136.00,198.41 L136.40,185.24 L136.80,186.23 L137.20,189.71 L137.60,181.65 L138.00,179.58 L138.40,179.48 L138.80,175.85 L139.20,175.83 L139.50,176.30 L140.00,176.13 L140.40,178.48 L140.80,178.59 L141.20,172.30 L141.60,170.62 L142.00,175.40 L142.40,170.58 L142.80,170.42 L143.20,170.73 L143.50,170.70 L144.00,170.12 L144.40,171.75 L144.80,170.21 L145.20,178.09 L145.60,171.76 L146.00,177.72 L146.40,190.15 L146.80,180.05 L147.20,182.00 L147.60,189.49 L148.00,200.04 L148.40,199.81 L148.80,198.90 L149.20,200.13 L149.60,202.93 L150.00,203.61 L150.40,210.65 L150.80,215.83 L151.20,216.51 L151.60,221.60 L152.00,226.17 L152.40,226.09 L152.80,226.19 L153.20,226.48 L153.60,233.23 L154.00,231.66 L154.40,236.64 L154.80,233.29 L155.20,237.97 L155.60,240.41 L156.00,240.13 L156.40,241.57 L156.80,243.79 L157.20,242.85 L157.60,244.97 L158.00,244.95 L158.40,246.70 L158.80,248.84 L159.20,248.39 L159.60,248.70 L160.00,249.10 L160.40,251.20 L160.80,250.49 L161.20,251.56 L161.60,251.32 L162.00,250.92 L162.40,251.14 L162.80,252.30 L163.20,253.00 L163.60,252.36 L164.00,252.93 L164.40,252.95 L164.80,253.00 L165.20,253.00 L165.60,253.00 L166.00,253.00" fill="none" stroke="#ff0000" stroke-width="0.55" stroke-linejoin="round"/>
<path d="M86.00,253.00 L86.40,253.00 L86.80,253.00 L87.20,253.00 L87.60,253.00 L88.00,253.00 L88.40,253.00 L88.80,253.00 L89.20,253.00 L89.60,252.60 L90.00,251.67 L90.40,252.28 L90.80,252.02 L91.20,251.24 L91.60,253.00 L92.00,248.47 L92.40,248.29 L92.80,247.37 L93.20,245.40 L93.60,243.91 L94.00,241.89 L94.40,242.59 L94.80,240.19 L95.20,239.45 L95.60,240.25 L96.00,236.11 L96.40,233.04 L96.80,230.83 L97.20,230.13 L97.60,231.49 L98.00,231.40 L98.40,226.13 L98.80,223.83 L99.20,223.90 L99.60,221.92 L100.00,219.26 L100.40,217.04 L100.80,212.92 L101.20,212.77 L101.60,208.63 L102.00,198.43 L102.40,204.85 L102.80,205.10 L103.20,205.47 L103.60,196.66 L104.00,186.85 L104.40,191.32 L104.80,181.36 L105.20,189.08 L105.60,183.10 L106.00,178.87 L106.40,177.40 L106.80,175.68 L107.10,173.90 L107.60,174.86 L108.00,178.15 L108.40,174.75 L108.70,173.10 L109.20,175.65 L109.60,189.51 L110.00,183.31 L110.40,183.68 L110.80,185.65 L111.20,185.17 L111.60,190.12 L112.00,195.94 L112.40,193.32 L112.80,198.45 L113.20,202.93 L113.60,202.50 L114.00,209.26 L114.40,207.85 L114.80,213.80 L115.20,214.63 L115.60,224.52 L116.00,221.15 L116.40,221.74 L116.80,225.77 L117.20,228.23 L117.60,232.72 L118.00,231.07 L118.40,235.04 L118.80,237.00 L119.20,237.51 L119.60,239.38 L120.00,245.52 L120.40,242.07 L120.80,245.75 L121.20,247.01 L121.60,245.37 L122.00,245.96 L122.40,247.56 L122.80,248.12 L123.20,250.26 L123.60,248.90 L124.00,250.33 L124.40,250.61 L124.80,252.11 L125.20,251.39 L125.60,251.87 L126.00,251.67 L126.40,252.43 L126.80,252.29 L127.20,252.84 L127.60,252.49 L128.00,252.59 L128.40,252.89 L128.80,252.96 L129.20,253.00 L129.60,253.00 L130.00,253.00 L130.40,253.00 L130.80,253.00 L131.20,253.00 L131.60,253.00 L132.00,253.00" fill="none" stroke="#00ffff" stroke-width="0.55" stroke-linejoin="round"/>
<path d="M69.5,153.5 H170.5" stroke="#7a7a7a" stroke-width="1" fill="none"/>
<path d="M69.5,253.5 H170.5" stroke="#9a9a9a" stroke-width="1" fill="none"/>
<path d="M69.5,153.0 V255.5" stroke="#7a7a7a" stroke-width="1" fill="none"/>
<path d="M170.5,153.0 V255.5" stroke="#666666" stroke-width="1" fill="none"/>
<path d="M67.5,253.5 H69.5 M67.5,244.6 H69.5 M67.5,235.6 H69.5 M67.5,226.7 H69.5 M67.5,217.7 H69.5 M67.5,208.8 H69.5 M67.5,199.8 H69.5 M67.5,190.9 H69.5 M67.5,181.9 H69.5 M67.5,173.0 H69.5 M67.5,164.0 H69.5" stroke="#333" stroke-width="0.8" fill="none"/>
<text transform="translate(62.3,164.7) rotate(-90)" font-size="8.3" text-anchor="middle" fill="#222">200</text>
<text transform="translate(62.3,207.3) rotate(-90)" font-size="8.3" text-anchor="middle" fill="#222">100</text>
<text transform="translate(62.3,252.3) rotate(-90)" font-size="8.3" text-anchor="middle" fill="#222">0</text>
<path d="M69.6,253.5 V255.1 M70.8,253.5 V255.1 M78.8,253.5 V255.1 M82.8,253.5 V255.1 M85.7,253.5 V255.1 M87.9,253.5 V255.1 M89.7,253.5 V255.1 M91.3,253.5 V255.1 M92.6,253.5 V255.1 M93.8,253.5 V255.1 M71.9,253.5 V256.0 M101.8,253.5 V255.1 M105.8,253.5 V255.1 M108.7,253.5 V255.1 M110.9,253.5 V255.1 M112.7,253.5 V255.1 M114.3,253.5 V255.1 M115.6,253.5 V255.1 M116.8,253.5 V255.1 M94.8,253.5 V256.0 M124.7,253.5 V255.1 M128.8,253.5 V255.1 M131.6,253.5 V255.1 M133.9,253.5 V255.1 M135.7,253.5 V255.1 M137.2,253.5 V255.1 M138.6,253.5 V255.1 M139.7,253.5 V255.1 M117.8,253.5 V256.0 M147.7,253.5 V255.1 M151.7,253.5 V255.1 M154.6,253.5 V255.1 M156.8,253.5 V255.1 M158.7,253.5 V255.1 M160.2,253.5 V255.1 M161.5,253.5 V255.1 M162.7,253.5 V255.1 M140.8,253.5 V256.0 M163.8,253.5 V256.0" stroke="#333" stroke-width="0.7" fill="none"/>
<text transform="translate(76.88,265.02) scale(0.86,1)" font-size="7.0" text-anchor="middle" fill="#000" stroke="#000" stroke-width="0.15">10<tspan font-size="4.20" dy="-2.80">2</tspan></text>
<text transform="translate(99.38,265.02) scale(0.86,1)" font-size="7.0" text-anchor="middle" fill="#000" stroke="#000" stroke-width="0.15">10<tspan font-size="4.20" dy="-2.80">3</tspan></text>
<text transform="translate(122.50,265.02) scale(0.86,1)" font-size="7.0" text-anchor="middle" fill="#000" stroke="#000" stroke-width="0.15">10<tspan font-size="4.20" dy="-2.80">4</tspan></text>
<text transform="translate(145.00,265.02) scale(0.86,1)" font-size="7.0" text-anchor="middle" fill="#000" stroke="#000" stroke-width="0.15">10<tspan font-size="4.20" dy="-2.80">5</tspan></text>
<text transform="translate(168.75,265.02) scale(0.86,1)" font-size="7.0" text-anchor="middle" fill="#000" stroke="#000" stroke-width="0.15">10<tspan font-size="4.20" dy="-2.80">6</tspan></text>
<path d="M129.5,171.0 H166.25" stroke="#7a7070" stroke-width="1" fill="none"/>
<path d="M129.5,166.4 V175.6 M166.25,166.4 V175.6" stroke="#5a4c4c" stroke-width="1" fill="none"/>
<text transform="translate(147.5,166.25) scale(0.9,1)" font-size="9.3" text-anchor="middle" fill="#000" stroke="#000" stroke-width="0.15">89.05%</text>
<path d="M212.00,253.00 L212.40,253.00 L212.80,253.00 L213.20,253.00 L213.60,253.00 L214.00,253.00 L214.40,253.00 L214.80,253.00 L215.20,253.00 L215.60,252.80 L216.00,252.75 L216.40,251.69 L216.80,252.68 L217.20,251.29 L217.60,250.18 L218.00,250.76 L218.40,249.39 L218.80,250.18 L219.20,248.21 L219.60,244.13 L220.00,242.39 L220.40,241.95 L220.80,240.14 L221.20,239.40 L221.60,236.89 L222.00,236.60 L222.40,233.34 L222.80,230.45 L223.20,227.27 L223.60,225.53 L224.00,223.42 L224.40,217.70 L224.80,215.96 L225.20,210.71 L225.60,205.16 L226.00,200.85 L226.40,202.33 L226.80,190.29 L227.20,187.13 L227.60,191.05 L228.00,175.01 L228.40,172.36 L228.90,171.50 L229.20,171.46 L229.60,173.36 L230.00,177.90 L230.40,178.39 L230.80,174.72 L231.20,170.56 L231.70,170.70 L232.00,172.24 L232.40,176.96 L232.80,180.30 L233.20,189.11 L233.60,182.89 L234.00,189.55 L234.40,188.93 L234.80,198.06 L235.20,194.80 L235.60,203.50 L236.00,195.20 L236.40,200.37 L236.80,196.35 L237.40,197.40 L238.00,198.28 L238.40,204.39 L238.80,204.96 L239.20,208.30 L239.60,207.04 L240.00,201.18 L240.40,204.58 L240.90,202.20 L241.20,202.03 L241.60,208.13 L242.00,212.48 L242.40,215.44 L242.80,215.01 L243.20,218.29 L243.60,215.21 L244.00,225.06 L244.40,222.17 L244.80,224.84 L245.20,229.09 L245.60,225.67 L246.00,230.90 L246.40,236.71 L246.80,234.08 L247.20,239.10 L247.60,240.48 L248.00,241.29 L248.40,246.25 L248.80,246.31 L249.20,250.35 L249.60,247.89 L250.00,249.04 L250.40,250.95 L250.80,252.65 L251.20,252.43 L251.60,253.00 L252.00,253.00 L252.40,253.00 L252.80,253.00" fill="none" stroke="#ff0000" stroke-width="0.55" stroke-linejoin="round"/>
<path d="M215.00,253.00 L215.40,253.00 L215.80,253.00 L216.20,253.00 L216.60,253.00 L217.00,253.00 L217.40,253.00 L217.80,252.87 L218.20,252.41 L218.60,252.77 L219.00,250.76 L219.40,250.59 L219.80,251.11 L220.20,249.97 L220.60,249.54 L221.00,247.32 L221.40,244.14 L221.80,241.00 L222.20,240.70 L222.60,238.33 L223.00,240.10 L223.40,235.40 L223.80,235.37 L224.20,239.07 L224.60,230.03 L225.00,224.88 L225.40,222.98 L225.80,216.47 L226.20,210.83 L226.60,211.17 L227.00,203.81 L227.40,203.94 L227.80,197.38 L228.20,195.65 L228.60,193.39 L229.00,189.33 L229.60,186.00 L230.20,188.10 L230.60,186.34 L231.00,192.70 L231.40,185.39 L231.80,182.68 L232.20,179.60 L232.60,182.99 L233.00,189.68 L233.40,187.64 L233.80,186.36 L234.20,192.68 L234.60,192.48 L235.00,195.00 L235.40,193.86 L235.80,199.22 L236.20,196.05 L236.60,193.67 L237.00,202.33 L237.40,196.18 L237.80,196.63 L238.20,201.53 L238.60,200.19 L239.00,197.60 L239.40,200.62 L239.80,207.68 L240.20,200.34 L240.60,201.51 L241.00,201.11 L241.40,200.92 L241.80,194.63 L242.20,202.00 L242.50,198.20 L243.00,201.06 L243.40,203.54 L243.80,205.52 L244.20,207.33 L244.60,209.28 L245.00,211.38 L245.40,215.06 L245.80,220.23 L246.20,225.95 L246.60,229.31 L247.00,230.22 L247.40,234.86 L247.80,236.31 L248.20,238.91 L248.60,234.68 L249.00,241.24 L249.40,241.75 L249.80,244.56 L250.20,246.18 L250.60,246.29 L251.00,248.62 L251.40,249.67 L251.80,252.60 L252.20,251.91 L252.60,252.25 L253.00,253.00 L253.40,252.94 L253.80,253.00 L254.20,253.00 L254.60,253.00 L255.00,253.00" fill="none" stroke="#00ffff" stroke-width="0.55" stroke-linejoin="round"/>
<path d="M195.5,153.0 H296.5" stroke="#7a7a7a" stroke-width="1" fill="none"/>
<path d="M195.5,253.5 H296.5" stroke="#9a9a9a" stroke-width="1" fill="none"/>
<path d="M195.5,152.5 V255.5" stroke="#7a7a7a" stroke-width="1" fill="none"/>
<path d="M296.5,152.5 V255.5" stroke="#666666" stroke-width="1" fill="none"/>
<path d="M193.5,253.5 H195.5 M193.5,245.2 H195.5 M193.5,236.9 H195.5 M193.5,228.6 H195.5 M193.5,220.3 H195.5 M193.5,212.0 H195.5 M193.5,203.7 H195.5 M193.5,195.4 H195.5 M193.5,187.1 H195.5 M193.5,178.8 H195.5 M193.5,170.5 H195.5 M193.5,162.2 H195.5" stroke="#333" stroke-width="0.8" fill="none"/>
<text transform="translate(188.3,164.7) rotate(-90)" font-size="8.3" text-anchor="middle" fill="#222">200</text>
<text transform="translate(188.3,207.3) rotate(-90)" font-size="8.3" text-anchor="middle" fill="#222">100</text>
<text transform="translate(188.3,252.3) rotate(-90)" font-size="8.3" text-anchor="middle" fill="#222">0</text>
<path d="M195.9,253.5 V255.1 M197.1,253.5 V255.1 M205.1,253.5 V255.1 M209.2,253.5 V255.1 M212.1,253.5 V255.1 M214.3,253.5 V255.1 M216.1,253.5 V255.1 M217.7,253.5 V255.1 M219.0,253.5 V255.1 M220.2,253.5 V255.1 M198.1,253.5 V256.0 M228.3,253.5 V255.1 M232.3,253.5 V255.1 M235.2,253.5 V255.1 M237.5,253.5 V255.1 M239.3,253.5 V255.1 M240.9,253.5 V255.1 M242.2,253.5 V255.1 M243.4,253.5 V255.1 M221.3,253.5 V256.0 M251.4,253.5 V255.1 M255.5,253.5 V255.1 M258.4,253.5 V255.1 M260.6,253.5 V255.1 M262.5,253.5 V255.1 M264.0,253.5 V255.1 M265.3,253.5 V255.1 M266.5,253.5 V255.1 M244.4,253.5 V256.0 M274.6,253.5 V255.1 M278.6,253.5 V255.1 M281.5,253.5 V255.1 M283.8,253.5 V255.1 M285.6,253.5 V255.1 M287.2,253.5 V255.1 M288.5,253.5 V255.1 M289.7,253.5 V255.1 M267.6,253.5 V256.0 M290.8,253.5 V256.0" stroke="#333" stroke-width="0.7" fill="none"/>
<text transform="translate(203.12,265.02) scale(0.86,1)" font-size="7.0" text-anchor="middle" fill="#000" stroke="#000" stroke-width="0.15">10<tspan font-size="4.20" dy="-2.80">2</tspan></text>
<text transform="translate(226.25,265.02) scale(0.86,1)" font-size="7.0" text-anchor="middle" fill="#000" stroke="#000" stroke-width="0.15">10<tspan font-size="4.20" dy="-2.80">3</tspan></text>
<text transform="translate(249.25,265.02) scale(0.86,1)" font-size="7.0" text-anchor="middle" fill="#000" stroke="#000" stroke-width="0.15">10<tspan font-size="4.20" dy="-2.80">4</tspan></text>
<text transform="translate(272.50,265.02) scale(0.86,1)" font-size="7.0" text-anchor="middle" fill="#000" stroke="#000" stroke-width="0.15">10<tspan font-size="4.20" dy="-2.80">5</tspan></text>
<text transform="translate(295.75,265.02) scale(0.86,1)" font-size="7.0" text-anchor="middle" fill="#000" stroke="#000" stroke-width="0.15">10<tspan font-size="4.20" dy="-2.80">6</tspan></text>
<path d="M254.25,171.0 H290.75" stroke="#7a7070" stroke-width="1" fill="none"/>
<path d="M254.25,166.4 V175.6 M290.75,166.4 V175.6" stroke="#5a4c4c" stroke-width="1" fill="none"/>
<text transform="translate(271.25,166.25) scale(0.9,1)" font-size="9.3" text-anchor="middle" fill="#000" stroke="#000" stroke-width="0.15">0.22%</text>
<path d="M341.00,253.00 L341.40,253.00 L341.80,253.00 L342.20,253.00 L342.60,253.00 L343.00,253.00 L343.40,252.93 L343.80,252.57 L344.20,252.80 L344.60,251.21 L345.00,251.91 L345.40,250.34 L345.80,249.74 L346.20,249.44 L346.60,246.60 L347.00,246.42 L347.40,248.46 L347.80,241.69 L348.20,243.91 L348.60,241.81 L349.00,239.43 L349.40,236.53 L349.80,238.57 L350.20,234.85 L350.60,230.86 L351.00,233.27 L351.40,229.49 L351.80,228.77 L352.20,226.82 L352.60,226.21 L353.00,223.18 L353.40,215.79 L353.80,219.15 L354.20,207.04 L354.60,206.70 L355.00,206.88 L355.40,204.03 L355.80,199.40 L356.20,200.98 L356.60,195.92 L357.00,195.72 L357.40,191.08 L357.80,185.33 L358.20,184.65 L358.60,181.85 L359.00,175.87 L359.40,176.70 L359.80,178.54 L360.20,173.85 L360.60,174.00 L361.00,176.64 L361.40,174.48 L361.80,183.96 L362.20,178.89 L362.60,175.90 L363.00,175.35 L363.30,175.00 L363.80,178.52 L364.20,176.45 L364.60,183.49 L365.00,183.70 L365.40,184.54 L365.80,191.15 L366.20,192.53 L366.60,193.63 L367.00,192.20 L367.40,195.32 L367.80,194.16 L368.20,192.18 L368.60,206.57 L369.00,208.59 L369.40,212.40 L369.80,208.46 L370.20,211.98 L370.60,215.88 L371.00,223.95 L371.40,217.34 L371.80,222.70 L372.20,227.12 L372.60,227.89 L373.00,230.75 L373.40,232.01 L373.80,233.38 L374.20,242.88 L374.60,236.24 L375.00,236.84 L375.40,241.31 L375.80,243.97 L376.20,240.50 L376.60,243.74 L377.00,245.62 L377.40,246.04 L377.80,247.84 L378.20,247.20 L378.60,247.51 L379.00,249.27 L379.40,249.03 L379.80,250.61 L380.20,250.89 L380.60,252.63 L381.00,251.94 L381.40,251.89 L381.80,251.70 L382.20,252.27 L382.60,252.18 L383.00,252.82 L383.40,252.64 L383.80,253.00" fill="none" stroke="#ff0000" stroke-width="0.55" stroke-linejoin="round"/>
<path d="M341.00,253.00 L341.40,253.00 L341.80,253.00 L342.20,253.00 L342.60,253.00 L343.00,253.00 L343.40,252.95 L343.80,252.55 L344.20,252.37 L344.60,252.84 L345.00,251.92 L345.40,250.81 L345.80,250.10 L346.20,249.97 L346.60,247.93 L347.00,248.24 L347.40,246.02 L347.80,245.03 L348.20,243.60 L348.60,240.05 L349.00,239.18 L349.40,240.53 L349.80,237.38 L350.20,235.61 L350.60,236.08 L351.00,231.51 L351.40,227.20 L351.80,227.20 L352.20,226.89 L352.60,226.55 L353.00,220.12 L353.40,216.21 L353.80,219.62 L354.20,210.92 L354.60,209.74 L355.00,208.05 L355.40,208.40 L355.80,202.35 L356.20,196.45 L356.60,189.64 L357.00,192.22 L357.40,187.35 L357.80,173.83 L358.20,185.05 L358.60,183.01 L359.00,181.77 L359.40,176.60 L359.80,176.22 L360.20,171.95 L360.60,172.30 L361.00,175.29 L361.40,185.42 L361.80,173.19 L362.20,180.26 L362.60,176.27 L363.00,171.65 L363.30,171.50 L363.80,171.19 L364.20,175.48 L364.60,179.48 L365.00,182.79 L365.40,185.05 L365.80,182.09 L366.20,188.62 L366.60,183.22 L367.00,193.14 L367.40,192.98 L367.80,193.52 L368.20,204.00 L368.60,199.49 L369.00,209.79 L369.40,214.88 L369.80,214.73 L370.20,219.94 L370.60,220.43 L371.00,227.20 L371.40,225.53 L371.80,227.24 L372.20,232.69 L372.60,230.99 L373.00,235.86 L373.40,232.92 L373.80,237.33 L374.20,235.57 L374.60,240.94 L375.00,240.07 L375.40,241.66 L375.80,245.64 L376.20,245.25 L376.60,246.14 L377.00,248.72 L377.40,247.47 L377.80,248.62 L378.20,250.92 L378.60,249.83 L379.00,249.64 L379.40,250.56 L379.80,251.26 L380.20,251.68 L380.60,252.17 L381.00,250.58 L381.40,252.46 L381.80,252.21 L382.20,252.60 L382.60,252.62 L383.00,252.54 L383.40,253.00 L383.80,253.00" fill="none" stroke="#00ffff" stroke-width="0.55" stroke-linejoin="round"/>
<path d="M324.5,154.0 H424.5" stroke="#7a7a7a" stroke-width="1" fill="none"/>
<path d="M324.5,253.5 H424.5" stroke="#9a9a9a" stroke-width="1" fill="none"/>
<path d="M324.5,153.5 V255.5" stroke="#7a7a7a" stroke-width="1" fill="none"/>
<path d="M424.5,153.5 V255.5" stroke="#666666" stroke-width="1" fill="none"/>
<path d="M322.5,253.5 H324.5 M322.5,245.2 H324.5 M322.5,236.9 H324.5 M322.5,228.6 H324.5 M322.5,220.3 H324.5 M322.5,212.0 H324.5 M322.5,203.7 H324.5 M322.5,195.4 H324.5 M322.5,187.1 H324.5 M322.5,178.8 H324.5 M322.5,170.5 H324.5 M322.5,162.2 H324.5" stroke="#333" stroke-width="0.8" fill="none"/>
<text transform="translate(317.3,164.7) rotate(-90)" font-size="8.3" text-anchor="middle" fill="#222">200</text>
<text transform="translate(317.3,207.3) rotate(-90)" font-size="8.3" text-anchor="middle" fill="#222">100</text>
<text transform="translate(317.3,252.3) rotate(-90)" font-size="8.3" text-anchor="middle" fill="#222">0</text>
<path d="M324.7,253.5 V255.1 M332.7,253.5 V255.1 M336.8,253.5 V255.1 M339.7,253.5 V255.1 M342.0,253.5 V255.1 M343.8,253.5 V255.1 M345.4,253.5 V255.1 M346.7,253.5 V255.1 M347.9,253.5 V255.1 M325.8,253.5 V256.0 M356.0,253.5 V255.1 M360.1,253.5 V255.1 M363.0,253.5 V255.1 M365.3,253.5 V255.1 M367.1,253.5 V255.1 M368.6,253.5 V255.1 M370.0,253.5 V255.1 M371.2,253.5 V255.1 M349.0,253.5 V256.0 M379.2,253.5 V255.1 M383.3,253.5 V255.1 M386.2,253.5 V255.1 M388.5,253.5 V255.1 M390.3,253.5 V255.1 M391.9,253.5 V255.1 M393.2,253.5 V255.1 M394.4,253.5 V255.1 M372.2,253.5 V256.0 M402.5,253.5 V255.1 M406.6,253.5 V255.1 M409.5,253.5 V255.1 M411.8,253.5 V255.1 M413.6,253.5 V255.1 M415.1,253.5 V255.1 M416.5,253.5 V255.1 M417.7,253.5 V255.1 M395.5,253.5 V256.0 M418.8,253.5 V256.0" stroke="#333" stroke-width="0.7" fill="none"/>
<text transform="translate(330.75,265.02) scale(0.86,1)" font-size="7.0" text-anchor="middle" fill="#000" stroke="#000" stroke-width="0.15">10<tspan font-size="4.20" dy="-2.80">2</tspan></text>
<text transform="translate(353.75,265.02) scale(0.86,1)" font-size="7.0" text-anchor="middle" fill="#000" stroke="#000" stroke-width="0.15">10<tspan font-size="4.20" dy="-2.80">3</tspan></text>
<text transform="translate(376.75,265.02) scale(0.86,1)" font-size="7.0" text-anchor="middle" fill="#000" stroke="#000" stroke-width="0.15">10<tspan font-size="4.20" dy="-2.80">4</tspan></text>
<text transform="translate(400.00,265.02) scale(0.86,1)" font-size="7.0" text-anchor="middle" fill="#000" stroke="#000" stroke-width="0.15">10<tspan font-size="4.20" dy="-2.80">5</tspan></text>
<text transform="translate(423.75,265.02) scale(0.86,1)" font-size="7.0" text-anchor="middle" fill="#000" stroke="#000" stroke-width="0.15">10<tspan font-size="4.20" dy="-2.80">6</tspan></text>
<path d="M386.25,171.0 H420" stroke="#7a7070" stroke-width="1" fill="none"/>
<path d="M386.25,166.4 V175.6 M420,166.4 V175.6" stroke="#5a4c4c" stroke-width="1" fill="none"/>
<text transform="translate(402.9,166.25) scale(0.9,1)" font-size="9.3" text-anchor="middle" fill="#000" stroke="#000" stroke-width="0.15">0.54%</text>
<path d="M481.00,253.00 L481.40,253.00 L481.80,253.00 L482.20,253.00 L482.60,253.00 L483.00,253.00 L483.40,253.00 L483.80,253.00 L484.20,252.76 L484.60,253.00 L485.00,252.99 L485.40,252.86 L485.80,252.97 L486.20,252.78 L486.60,252.53 L487.00,252.54 L487.40,251.77 L487.80,252.70 L488.20,253.00 L488.60,251.73 L489.00,252.86 L489.40,252.39 L489.80,251.54 L490.20,252.42 L490.60,250.56 L491.00,251.03 L491.40,251.16 L491.80,252.07 L492.20,250.06 L492.60,250.27 L493.00,250.83 L493.40,249.75 L493.80,248.75 L494.20,249.23 L494.60,248.70 L495.00,249.69 L495.40,248.38 L495.80,247.45 L496.20,248.04 L496.60,247.41 L497.00,245.80 L497.40,247.76 L497.80,245.88 L498.20,246.54 L498.60,246.33 L499.00,245.89 L499.40,245.91 L499.80,239.49 L500.20,244.72 L500.60,243.55 L501.00,241.88 L501.40,240.56 L501.80,241.60 L502.20,240.80 L502.60,241.48 L503.00,241.12 L503.40,237.78 L503.80,239.48 L504.20,233.37 L504.60,238.11 L505.00,235.33 L505.40,237.11 L505.80,234.14 L506.20,231.03 L506.60,231.46 L507.00,234.06 L507.40,229.57 L507.80,228.89 L508.20,228.62 L508.60,230.20 L509.00,226.07 L509.40,226.31 L509.80,225.78 L510.20,222.12 L510.60,218.48 L511.00,221.85 L511.40,225.72 L511.80,219.62 L512.20,218.93 L512.60,218.85 L513.00,218.33 L513.40,214.73 L513.80,214.51 L514.20,212.53 L514.60,215.25 L515.00,211.96 L515.40,207.76 L515.80,206.08 L516.20,213.07 L516.60,210.55 L517.00,208.43 L517.40,210.78 L517.80,213.40 L518.20,206.82 L518.60,204.37 L519.00,214.78 L519.40,206.09 L519.80,203.80 L520.20,203.83 L520.60,205.20 L521.00,207.06 L521.40,206.85 L521.80,205.95 L522.20,207.45 L522.60,205.08 L523.00,203.05 L523.40,201.84 L523.80,203.60 L524.20,205.36 L524.60,205.61 L525.00,201.59 L525.40,204.83 L525.80,199.93 L526.20,200.71 L526.60,199.80 L527.00,199.92 L527.40,203.53 L527.80,201.36 L528.20,208.69 L528.60,211.82 L529.00,208.28 L529.40,212.28 L529.80,218.95 L530.20,219.29 L530.60,215.14 L531.00,213.74 L531.40,215.21 L531.80,222.66 L532.20,219.79 L532.60,221.05 L533.00,218.99 L533.40,219.23 L533.80,224.88 L534.20,229.54 L534.60,226.49 L535.00,228.84 L535.40,230.39 L535.80,232.35 L536.20,234.73 L536.60,234.42 L537.00,234.62 L537.40,237.46 L537.80,237.23 L538.20,237.26 L538.60,242.15 L539.00,238.19 L539.40,240.65 L539.80,243.86 L540.20,244.45 L540.60,241.95 L541.00,245.18 L541.40,245.77 L541.80,247.01 L542.20,248.46 L542.60,247.79 L543.00,247.95 L543.40,249.66 L543.80,248.80 L544.20,250.76 L544.60,250.20 L545.00,251.36 L545.40,251.08 L545.80,251.53 L546.20,251.67 L546.60,251.67 L547.00,252.64 L547.40,252.19 L547.80,252.74 L548.20,253.00 L548.60,252.94 L549.00,252.97 L549.40,253.00 L549.80,253.00 L550.20,253.00 L550.60,253.00 L551.00,253.00" fill="none" stroke="#ff0000" stroke-width="0.55" stroke-linejoin="round"/>
<path d="M455.00,253.00 L455.40,253.00 L455.80,253.00 L456.20,253.00 L456.60,253.00 L457.00,253.00 L457.40,253.00 L457.80,253.00 L458.20,252.98 L458.60,252.97 L459.00,252.76 L459.40,252.86 L459.80,252.21 L460.20,252.10 L460.60,251.47 L461.00,251.87 L461.40,249.21 L461.80,249.63 L462.20,249.87 L462.60,249.04 L463.00,246.92 L463.40,245.16 L463.80,245.08 L464.20,243.35 L464.60,245.14 L465.00,243.63 L465.40,239.70 L465.80,242.14 L466.20,239.15 L466.60,237.94 L467.00,234.14 L467.40,232.07 L467.80,229.95 L468.20,227.95 L468.60,222.69 L469.00,225.41 L469.40,225.92 L469.80,219.56 L470.20,216.93 L470.60,216.73 L471.00,214.17 L471.40,211.56 L471.80,212.87 L472.20,216.49 L472.60,197.24 L473.00,193.87 L473.40,188.24 L473.80,184.16 L474.20,183.57 L474.60,183.97 L475.00,178.87 L475.40,181.94 L475.80,171.51 L476.20,178.49 L476.60,174.61 L477.00,172.75 L477.60,169.90 L478.20,178.44 L478.60,181.51 L479.00,173.37 L479.40,180.37 L479.70,174.70 L480.20,175.93 L480.60,176.62 L481.00,184.73 L481.40,187.70 L481.80,195.55 L482.20,190.94 L482.60,190.05 L483.00,196.82 L483.40,209.81 L483.80,199.78 L484.20,204.01 L484.60,208.23 L485.00,205.39 L485.40,207.25 L485.80,212.75 L486.20,211.74 L486.60,214.26 L487.00,216.98 L487.40,223.57 L487.80,217.10 L488.20,224.64 L488.60,225.96 L489.00,222.23 L489.40,228.07 L489.80,229.04 L490.20,231.14 L490.60,236.10 L491.00,236.24 L491.40,237.03 L491.80,242.47 L492.20,242.51 L492.60,245.21 L493.00,246.47 L493.40,247.45 L493.80,249.65 L494.20,249.95 L494.60,250.62 L495.00,251.48 L495.40,251.62 L495.80,252.21 L496.20,252.00 L496.60,252.70 L497.00,252.78 L497.40,253.00 L497.80,253.00 L498.20,253.00 L498.60,253.00 L499.00,253.00" fill="none" stroke="#00ffff" stroke-width="0.55" stroke-linejoin="round"/>
<path d="M451.5,153.5 H552.5" stroke="#7a7a7a" stroke-width="1" fill="none"/>
<path d="M451.5,253.5 H552.5" stroke="#9a9a9a" stroke-width="1" fill="none"/>
<path d="M451.5,153.0 V255.5" stroke="#7a7a7a" stroke-width="1" fill="none"/>
<path d="M552.5,153.0 V255.5" stroke="#666666" stroke-width="1" fill="none"/>
<path d="M449.5,253.5 H451.5 M449.5,245.2 H451.5 M449.5,236.9 H451.5 M449.5,228.6 H451.5 M449.5,220.3 H451.5 M449.5,212.0 H451.5 M449.5,203.7 H451.5 M449.5,195.4 H451.5 M449.5,187.1 H451.5 M449.5,178.8 H451.5 M449.5,170.5 H451.5 M449.5,162.2 H451.5" stroke="#333" stroke-width="0.8" fill="none"/>
<text transform="translate(444.3,164.7) rotate(-90)" font-size="8.3" text-anchor="middle" fill="#222">200</text>
<text transform="translate(444.3,207.3) rotate(-90)" font-size="8.3" text-anchor="middle" fill="#222">100</text>
<text transform="translate(444.3,252.3) rotate(-90)" font-size="8.3" text-anchor="middle" fill="#222">0</text>
<path d="M452.4,253.5 V255.1 M460.4,253.5 V255.1 M464.5,253.5 V255.1 M467.4,253.5 V255.1 M469.6,253.5 V255.1 M471.4,253.5 V255.1 M473.0,253.5 V255.1 M474.3,253.5 V255.1 M475.5,253.5 V255.1 M453.5,253.5 V256.0 M483.5,253.5 V255.1 M487.6,253.5 V255.1 M490.4,253.5 V255.1 M492.7,253.5 V255.1 M494.5,253.5 V255.1 M496.1,253.5 V255.1 M497.4,253.5 V255.1 M498.6,253.5 V255.1 M476.6,253.5 V256.0 M506.6,253.5 V255.1 M510.6,253.5 V255.1 M513.5,253.5 V255.1 M515.7,253.5 V255.1 M517.6,253.5 V255.1 M519.1,253.5 V255.1 M520.5,253.5 V255.1 M521.6,253.5 V255.1 M499.6,253.5 V256.0 M529.6,253.5 V255.1 M533.7,253.5 V255.1 M536.6,253.5 V255.1 M538.8,253.5 V255.1 M540.6,253.5 V255.1 M542.2,253.5 V255.1 M543.5,253.5 V255.1 M544.7,253.5 V255.1 M522.7,253.5 V256.0 M545.8,253.5 V256.0" stroke="#333" stroke-width="0.7" fill="none"/>
<text transform="translate(458.50,265.02) scale(0.86,1)" font-size="7.0" text-anchor="middle" fill="#000" stroke="#000" stroke-width="0.15">10<tspan font-size="4.20" dy="-2.80">2</tspan></text>
<text transform="translate(481.25,265.02) scale(0.86,1)" font-size="7.0" text-anchor="middle" fill="#000" stroke="#000" stroke-width="0.15">10<tspan font-size="4.20" dy="-2.80">3</tspan></text>
<text transform="translate(504.75,265.02) scale(0.86,1)" font-size="7.0" text-anchor="middle" fill="#000" stroke="#000" stroke-width="0.15">10<tspan font-size="4.20" dy="-2.80">4</tspan></text>
<text transform="translate(527.50,265.02) scale(0.86,1)" font-size="7.0" text-anchor="middle" fill="#000" stroke="#000" stroke-width="0.15">10<tspan font-size="4.20" dy="-2.80">5</tspan></text>
<text transform="translate(550.75,265.02) scale(0.86,1)" font-size="7.0" text-anchor="middle" fill="#000" stroke="#000" stroke-width="0.15">10<tspan font-size="4.20" dy="-2.80">6</tspan></text>
<path d="M500.5,171.0 H547.5" stroke="#7a7070" stroke-width="1" fill="none"/>
<path d="M500.5,166.4 V175.6 M547.5,166.4 V175.6" stroke="#5a4c4c" stroke-width="1" fill="none"/>
<text transform="translate(523.75,166.25) scale(0.9,1)" font-size="9.3" text-anchor="middle" fill="#000" stroke="#000" stroke-width="0.15">96.29%</text>
<path d="M602.00,253.00 L602.40,253.00 L602.80,253.00 L603.20,253.00 L603.60,253.00 L604.00,253.00 L604.40,253.00 L604.80,252.97 L605.20,252.69 L605.60,252.45 L606.00,251.34 L606.40,251.94 L606.80,251.62 L607.20,250.52 L607.60,247.78 L608.00,245.47 L608.40,244.98 L608.80,238.94 L609.20,240.09 L609.60,235.64 L610.00,235.83 L610.40,232.71 L610.80,226.55 L611.20,228.09 L611.60,221.40 L612.00,219.42 L612.40,218.35 L612.80,210.02 L613.20,210.62 L613.60,206.25 L614.00,198.50 L614.40,198.29 L614.80,187.92 L615.20,191.88 L615.60,178.38 L616.00,170.66 L616.40,174.61 L617.00,170.70 L617.60,174.39 L618.00,175.75 L618.40,175.39 L618.90,171.50 L619.20,173.24 L619.60,175.47 L620.00,172.63 L620.40,180.90 L620.80,174.71 L621.20,178.63 L621.60,180.86 L622.00,183.45 L622.40,185.59 L622.80,188.16 L623.20,187.26 L623.60,185.35 L624.10,181.20 L624.40,179.03 L624.80,186.17 L625.20,188.32 L625.60,192.33 L626.00,196.13 L626.40,191.62 L626.80,203.14 L627.20,204.23 L627.60,210.88 L628.00,209.03 L628.40,216.39 L628.80,220.75 L629.20,223.04 L629.60,226.36 L630.00,227.70 L630.40,228.30 L630.80,231.44 L631.20,236.50 L631.60,236.41 L632.00,237.30 L632.40,238.28 L632.80,244.07 L633.20,241.46 L633.60,243.26 L634.00,244.53 L634.40,246.05 L634.80,247.74 L635.20,247.82 L635.60,249.17 L636.00,249.23 L636.40,250.17 L636.80,250.86 L637.20,251.76 L637.60,251.17 L638.00,252.01 L638.40,252.52 L638.80,252.56 L639.20,252.33 L639.60,252.76 L640.00,252.89 L640.40,252.98 L640.80,253.00 L641.20,253.00 L641.60,253.00 L642.00,253.00" fill="none" stroke="#ff0000" stroke-width="0.55" stroke-linejoin="round"/>
<path d="M599.00,253.00 L599.40,253.00 L599.80,253.00 L600.20,253.00 L600.60,253.00 L601.00,253.00 L601.40,253.00 L601.80,252.81 L602.20,252.34 L602.60,252.10 L603.00,250.28 L603.40,250.71 L603.80,251.29 L604.20,249.78 L604.60,248.11 L605.00,247.77 L605.40,245.31 L605.80,243.62 L606.20,242.05 L606.60,238.09 L607.00,237.17 L607.40,234.99 L607.80,232.48 L608.20,230.62 L608.60,227.30 L609.00,225.69 L609.40,225.38 L609.80,216.05 L610.20,214.05 L610.60,211.85 L611.00,198.42 L611.40,209.89 L611.80,198.65 L612.20,194.17 L612.60,189.86 L613.00,179.68 L613.40,195.12 L613.80,185.11 L614.20,180.72 L614.60,180.47 L615.00,177.60 L615.40,176.81 L615.70,176.30 L616.20,178.95 L616.60,183.49 L617.00,186.06 L617.40,189.81 L617.80,191.65 L618.20,189.74 L618.60,196.25 L619.00,197.28 L619.40,205.04 L619.80,201.92 L620.20,201.16 L620.60,194.42 L621.00,201.24 L621.30,197.40 L621.80,202.72 L622.20,200.20 L622.60,209.77 L623.00,202.90 L623.40,217.10 L623.80,210.11 L624.20,207.97 L624.60,197.47 L625.00,198.16 L625.40,197.40 L625.80,196.48 L626.20,214.56 L626.60,208.15 L627.00,203.27 L627.40,205.80 L627.80,207.34 L628.20,214.49 L628.60,217.58 L629.00,217.51 L629.40,222.48 L629.80,233.65 L630.20,229.82 L630.60,229.96 L631.00,235.30 L631.40,235.54 L631.80,238.00 L632.20,240.19 L632.60,241.48 L633.00,242.77 L633.40,245.34 L633.80,244.63 L634.20,245.82 L634.60,247.94 L635.00,246.73 L635.40,249.29 L635.80,248.44 L636.20,249.42 L636.60,251.33 L637.00,251.45 L637.40,250.98 L637.80,251.18 L638.20,253.00 L638.60,252.04 L639.00,252.56 L639.40,252.79 L639.80,253.00 L640.20,253.00 L640.60,253.00 L641.00,253.00" fill="none" stroke="#00ffff" stroke-width="0.55" stroke-linejoin="round"/>
<path d="M579.5,153.5 H679.5" stroke="#7a7a7a" stroke-width="1" fill="none"/>
<path d="M579.5,253.5 H679.5" stroke="#9a9a9a" stroke-width="1" fill="none"/>
<path d="M579.5,153.0 V255.5" stroke="#7a7a7a" stroke-width="1" fill="none"/>
<path d="M679.5,153.0 V255.5" stroke="#666666" stroke-width="1" fill="none"/>
<path d="M577.5,253.5 H579.5 M577.5,245.2 H579.5 M577.5,236.9 H579.5 M577.5,228.6 H579.5 M577.5,220.3 H579.5 M577.5,212.0 H579.5 M577.5,203.7 H579.5 M577.5,195.4 H579.5 M577.5,187.1 H579.5 M577.5,178.8 H579.5 M577.5,170.5 H579.5 M577.5,162.2 H579.5" stroke="#333" stroke-width="0.8" fill="none"/>
<text transform="translate(572.3,164.7) rotate(-90)" font-size="8.3" text-anchor="middle" fill="#222">200</text>
<text transform="translate(572.3,207.3) rotate(-90)" font-size="8.3" text-anchor="middle" fill="#222">100</text>
<text transform="translate(572.3,252.3) rotate(-90)" font-size="8.3" text-anchor="middle" fill="#222">0</text>
<path d="M579.9,253.5 V255.1 M588.0,253.5 V255.1 M592.0,253.5 V255.1 M594.9,253.5 V255.1 M597.2,253.5 V255.1 M599.0,253.5 V255.1 M600.5,253.5 V255.1 M601.9,253.5 V255.1 M603.1,253.5 V255.1 M581.0,253.5 V256.0 M611.1,253.5 V255.1 M615.2,253.5 V255.1 M618.0,253.5 V255.1 M620.3,253.5 V255.1 M622.1,253.5 V255.1 M623.7,253.5 V255.1 M625.0,253.5 V255.1 M626.2,253.5 V255.1 M604.1,253.5 V256.0 M634.2,253.5 V255.1 M638.3,253.5 V255.1 M641.2,253.5 V255.1 M643.4,253.5 V255.1 M645.2,253.5 V255.1 M646.8,253.5 V255.1 M648.1,253.5 V255.1 M649.3,253.5 V255.1 M627.2,253.5 V256.0 M657.3,253.5 V255.1 M661.4,253.5 V255.1 M664.3,253.5 V255.1 M666.5,253.5 V255.1 M668.4,253.5 V255.1 M669.9,253.5 V255.1 M671.3,253.5 V255.1 M672.4,253.5 V255.1 M650.4,253.5 V256.0 M673.5,253.5 V256.0" stroke="#333" stroke-width="0.7" fill="none"/>
<text transform="translate(586.00,265.02) scale(0.86,1)" font-size="7.0" text-anchor="middle" fill="#000" stroke="#000" stroke-width="0.15">10<tspan font-size="4.20" dy="-2.80">2</tspan></text>
<text transform="translate(609.50,265.02) scale(0.86,1)" font-size="7.0" text-anchor="middle" fill="#000" stroke="#000" stroke-width="0.15">10<tspan font-size="4.20" dy="-2.80">3</tspan></text>
<text transform="translate(632.50,265.02) scale(0.86,1)" font-size="7.0" text-anchor="middle" fill="#000" stroke="#000" stroke-width="0.15">10<tspan font-size="4.20" dy="-2.80">4</tspan></text>
<text transform="translate(655.62,265.02) scale(0.86,1)" font-size="7.0" text-anchor="middle" fill="#000" stroke="#000" stroke-width="0.15">10<tspan font-size="4.20" dy="-2.80">5</tspan></text>
<text transform="translate(678.50,265.02) scale(0.86,1)" font-size="7.0" text-anchor="middle" fill="#000" stroke="#000" stroke-width="0.15">10<tspan font-size="4.20" dy="-2.80">6</tspan></text>
<path d="M638.5,171.0 H675.5" stroke="#7a7070" stroke-width="1" fill="none"/>
<path d="M638.5,166.4 V175.6 M675.5,166.4 V175.6" stroke="#5a4c4c" stroke-width="1" fill="none"/>
<text transform="translate(657.6,166.25) scale(0.9,1)" font-size="9.3" text-anchor="middle" fill="#000" stroke="#000" stroke-width="0.15">0.46%</text>
<path d="M109.00,411.00 L109.40,411.00 L109.80,411.00 L110.20,411.00 L110.60,411.00 L111.00,411.00 L111.40,411.00 L111.80,410.97 L112.20,410.95 L112.60,410.93 L113.00,411.00 L113.40,410.51 L113.80,410.50 L114.20,410.52 L114.60,410.74 L115.00,410.83 L115.40,409.71 L115.80,410.19 L116.20,409.92 L116.60,409.82 L117.00,409.56 L117.40,408.91 L117.80,409.08 L118.20,407.74 L118.60,409.07 L119.00,408.77 L119.40,409.24 L119.80,406.69 L120.20,406.25 L120.60,406.86 L121.00,406.55 L121.40,405.79 L121.80,404.13 L122.20,404.95 L122.60,404.82 L123.00,405.70 L123.40,404.16 L123.80,404.14 L124.20,402.19 L124.60,405.32 L125.00,404.20 L125.40,402.40 L125.80,399.81 L126.20,397.77 L126.60,394.97 L127.00,400.12 L127.40,397.78 L127.80,393.82 L128.20,395.16 L128.60,391.34 L129.00,390.76 L129.40,384.11 L129.80,386.53 L130.20,386.30 L130.60,384.26 L131.00,381.27 L131.40,378.28 L131.80,373.51 L132.20,366.19 L132.60,371.63 L133.00,372.86 L133.40,364.21 L133.80,362.94 L134.20,365.67 L134.60,359.21 L135.00,357.90 L135.40,350.09 L135.80,345.89 L136.20,346.23 L136.60,342.38 L137.00,337.84 L137.40,347.47 L137.80,342.82 L138.20,338.76 L138.60,340.08 L139.00,338.20 L139.40,330.85 L139.80,330.74 L140.20,330.11 L140.70,329.30 L141.00,329.36 L141.40,330.34 L141.80,332.70 L142.20,329.38 L142.60,340.46 L143.00,340.56 L143.40,341.39 L143.80,354.95 L144.20,344.73 L144.60,351.44 L145.00,348.75 L145.40,356.43 L145.80,357.08 L146.20,360.65 L146.60,363.66 L147.00,371.98 L147.40,375.50 L147.80,375.83 L148.20,370.26 L148.60,392.78 L149.00,385.31 L149.40,385.97 L149.80,386.87 L150.20,389.92 L150.60,391.20 L151.00,395.46 L151.40,399.64 L151.80,400.63 L152.20,402.89 L152.60,402.17 L153.00,404.53 L153.40,407.40 L153.80,408.54 L154.20,409.08 L154.60,410.25 L155.00,409.92 L155.40,410.63 L155.80,411.00 L156.20,411.00 L156.60,411.00 L157.00,411.00" fill="none" stroke="#ff0000" stroke-width="0.55" stroke-linejoin="round"/>
<path d="M71.00,411.00 L71.40,411.00 L71.80,411.00 L72.20,411.00 L72.60,411.00 L73.00,411.00 L73.40,410.93 L73.80,410.79 L74.20,410.81 L74.60,410.60 L75.00,410.40 L75.40,410.45 L75.80,410.64 L76.20,409.33 L76.60,409.06 L77.00,407.79 L77.40,407.12 L77.80,407.86 L78.20,406.29 L78.60,405.43 L79.00,405.48 L79.40,402.03 L79.80,398.87 L80.20,399.39 L80.60,399.47 L81.00,396.51 L81.40,395.24 L81.80,396.61 L82.20,390.58 L82.60,388.53 L83.00,387.08 L83.40,387.89 L83.80,386.27 L84.20,379.62 L84.60,379.76 L85.00,374.85 L85.40,371.64 L85.80,374.17 L86.20,361.27 L86.60,361.91 L87.00,360.83 L87.40,358.83 L87.80,361.51 L88.20,355.64 L88.60,351.85 L89.00,353.98 L89.40,348.26 L89.80,353.02 L90.20,352.38 L90.60,344.31 L91.00,353.34 L91.40,349.19 L91.80,350.33 L92.20,351.50 L92.60,354.51 L93.00,349.45 L93.40,343.96 L93.80,343.70 L94.20,337.27 L94.80,334.10 L95.40,334.89 L95.80,341.65 L96.20,342.68 L96.60,341.72 L97.00,341.60 L97.40,344.48 L97.80,340.11 L98.20,337.43 L98.60,341.91 L99.00,344.81 L99.40,353.20 L99.80,346.37 L100.20,354.46 L100.60,358.39 L101.00,362.70 L101.40,365.43 L101.80,370.16 L102.20,371.09 L102.60,373.46 L103.00,387.25 L103.40,379.98 L103.80,387.31 L104.20,390.20 L104.60,389.82 L105.00,393.19 L105.40,397.00 L105.80,400.73 L106.20,401.26 L106.60,405.46 L107.00,406.37 L107.40,407.99 L107.80,408.72 L108.20,410.38 L108.60,410.95 L109.00,411.00 L109.40,411.00 L109.80,411.00" fill="none" stroke="#00ffff" stroke-width="0.55" stroke-linejoin="round"/>
<path d="M69.5,311.0 H170.5" stroke="#7a7a7a" stroke-width="1" fill="none"/>
<path d="M69.5,411.5 H170.5" stroke="#9a9a9a" stroke-width="1" fill="none"/>
<path d="M69.5,310.5 V413.5" stroke="#7a7a7a" stroke-width="1" fill="none"/>
<path d="M170.5,310.5 V413.5" stroke="#666666" stroke-width="1" fill="none"/>
<path d="M67.5,411.5 H69.5 M67.5,403.9 H69.5 M67.5,396.4 H69.5 M67.5,388.8 H69.5 M67.5,381.3 H69.5 M67.5,373.7 H69.5 M67.5,366.2 H69.5 M67.5,358.6 H69.5 M67.5,351.1 H69.5 M67.5,343.5 H69.5 M67.5,336.0 H69.5 M67.5,328.4 H69.5 M67.5,320.9 H69.5 M67.5,313.3 H69.5" stroke="#333" stroke-width="0.8" fill="none"/>
<text transform="translate(62.3,334.0) rotate(-90)" font-size="8.3" text-anchor="middle" fill="#222">200</text>
<text transform="translate(62.3,373.3) rotate(-90)" font-size="8.3" text-anchor="middle" fill="#222">100</text>
<text transform="translate(62.3,408.0) rotate(-90)" font-size="8.3" text-anchor="middle" fill="#222">0</text>
<path d="M70.5,411.5 V413.1 M72.8,411.5 V413.1 M74.6,411.5 V413.1 M76.2,411.5 V413.1 M77.5,411.5 V413.1 M78.7,411.5 V413.1 M86.7,411.5 V413.1 M90.8,411.5 V413.1 M93.7,411.5 V413.1 M96.0,411.5 V413.1 M97.8,411.5 V413.1 M99.4,411.5 V413.1 M100.7,411.5 V413.1 M101.9,411.5 V413.1 M79.8,411.5 V414.0 M110.0,411.5 V413.1 M114.1,411.5 V413.1 M117.0,411.5 V413.1 M119.2,411.5 V413.1 M121.1,411.5 V413.1 M122.6,411.5 V413.1 M124.0,411.5 V413.1 M125.2,411.5 V413.1 M103.0,411.5 V414.0 M133.2,411.5 V413.1 M137.3,411.5 V413.1 M140.2,411.5 V413.1 M142.5,411.5 V413.1 M144.3,411.5 V413.1 M145.9,411.5 V413.1 M147.2,411.5 V413.1 M148.4,411.5 V413.1 M126.2,411.5 V414.0 M156.4,411.5 V413.1 M160.5,411.5 V413.1 M163.4,411.5 V413.1 M165.7,411.5 V413.1 M167.5,411.5 V413.1 M169.1,411.5 V413.1 M170.4,411.5 V413.1 M149.4,411.5 V414.0" stroke="#333" stroke-width="0.7" fill="none"/>
<text transform="translate(84.25,425.02) scale(0.87,1)" font-size="8.4" text-anchor="middle" fill="#000" stroke="#000" stroke-width="0.15">10<tspan font-size="5.04" dy="-3.36">3</tspan></text>
<text transform="translate(107.05,425.02) scale(0.87,1)" font-size="8.4" text-anchor="middle" fill="#000" stroke="#000" stroke-width="0.15">10<tspan font-size="5.04" dy="-3.36">4</tspan></text>
<text transform="translate(130.50,425.02) scale(0.87,1)" font-size="8.4" text-anchor="middle" fill="#000" stroke="#000" stroke-width="0.15">10<tspan font-size="5.04" dy="-3.36">5</tspan></text>
<text transform="translate(153.95,425.02) scale(0.87,1)" font-size="8.4" text-anchor="middle" fill="#000" stroke="#000" stroke-width="0.15">10<tspan font-size="5.04" dy="-3.36">6</tspan></text>
<path d="M113.25,334.0 H159.25" stroke="#7a7070" stroke-width="1" fill="none"/>
<path d="M113.25,329.4 V338.6 M159.25,329.4 V338.6" stroke="#5a4c4c" stroke-width="1" fill="none"/>
<text transform="translate(137.9,329.85) scale(0.9,1)" font-size="9.3" text-anchor="middle" fill="#000" stroke="#000" stroke-width="0.15">97.54%</text>
<path d="M210.00,412.00 L210.40,412.00 L210.80,412.00 L211.20,412.00 L211.60,412.00 L212.00,412.00 L212.40,412.00 L212.80,411.99 L213.20,411.82 L213.60,411.88 L214.00,411.89 L214.40,411.50 L214.80,411.90 L215.20,411.52 L215.60,411.05 L216.00,410.91 L216.40,410.65 L216.80,411.20 L217.20,410.76 L217.60,410.49 L218.00,410.76 L218.40,409.56 L218.80,410.42 L219.20,409.79 L219.60,409.05 L220.00,409.67 L220.40,408.94 L220.80,406.53 L221.20,408.48 L221.60,406.63 L222.00,405.75 L222.40,406.76 L222.80,409.54 L223.20,408.93 L223.60,408.04 L224.00,406.03 L224.40,406.10 L224.80,401.76 L225.20,403.44 L225.60,401.20 L226.00,401.53 L226.40,400.89 L226.80,402.71 L227.20,395.24 L227.60,396.35 L228.00,396.21 L228.40,395.57 L228.80,396.73 L229.20,392.20 L229.60,396.83 L230.00,392.41 L230.40,390.92 L230.80,391.44 L231.20,390.96 L231.60,392.10 L232.00,389.15 L232.40,393.44 L232.80,392.85 L233.20,391.67 L233.60,388.18 L234.00,388.16 L234.40,389.15 L234.80,387.62 L235.20,390.24 L235.60,386.70 L236.10,389.10 L236.40,390.04 L236.80,392.30 L237.20,389.03 L237.60,390.52 L238.00,389.56 L238.40,388.43 L238.80,388.21 L239.20,394.44 L239.60,391.61 L240.00,387.94 L240.40,388.04 L241.00,389.10 L241.60,387.86 L242.00,394.78 L242.40,387.63 L242.80,393.14 L243.20,391.91 L243.60,393.85 L244.00,392.06 L244.40,399.48 L244.80,390.96 L245.20,391.72 L245.60,391.98 L246.00,389.41 L246.40,395.70 L246.80,389.52 L247.20,389.21 L247.60,391.09 L248.00,391.70 L248.40,390.42 L248.80,388.12 L249.20,388.86 L249.60,390.51 L250.00,392.48 L250.40,390.08 L250.80,387.31 L251.20,383.69 L251.60,387.02 L252.00,387.20 L252.40,383.94 L252.80,385.93 L253.20,385.41 L253.60,383.75 L254.00,384.27 L254.40,383.97 L254.90,383.40 L255.20,383.38 L255.60,384.07 L256.00,383.90 L256.40,383.73 L256.80,384.03 L257.20,383.92 L257.60,384.35 L258.00,383.33 L258.40,385.67 L258.80,385.46 L259.20,384.19 L259.60,384.85 L260.00,385.10 L260.40,384.53 L260.80,383.53 L261.20,384.33 L261.60,383.34 L262.00,384.27 L262.40,386.94 L262.80,388.52 L263.20,387.97 L263.60,390.35 L264.00,393.97 L264.40,391.27 L264.80,392.44 L265.20,395.57 L265.60,392.37 L266.00,393.86 L266.40,397.49 L266.80,397.29 L267.20,396.48 L267.60,400.13 L268.00,397.92 L268.40,399.53 L268.80,400.39 L269.20,402.41 L269.60,402.31 L270.00,400.64 L270.40,403.80 L270.80,402.57 L271.20,403.67 L271.60,400.43 L272.00,410.73 L272.40,405.22 L272.80,407.32 L273.20,407.63 L273.60,409.07 L274.00,408.06 L274.40,406.66 L274.80,408.20 L275.20,409.90 L275.60,411.78 L276.00,410.39 L276.40,409.99 L276.80,410.77 L277.20,410.90 L277.60,411.73 L278.00,411.51 L278.40,412.00 L278.80,412.00 L279.20,412.00 L279.60,412.00 L280.00,412.00" fill="none" stroke="#ff0000" stroke-width="0.55" stroke-linejoin="round"/>
<path d="M196.80,399.96 L197.20,409.83 L197.60,411.80 L198.00,411.92 L198.40,411.77 L198.80,411.88 L199.20,410.94 L199.60,411.93 L200.00,410.76 L200.40,411.42 L200.80,411.01 L201.20,412.00 L201.60,411.59 L202.00,411.32 L202.40,411.16 L202.80,411.34 L203.20,410.83 L203.60,412.00 L204.00,411.00 L204.40,410.72 L204.80,411.41 L205.20,410.94 L205.60,411.49 L206.00,411.29 L206.40,410.26 L206.80,410.87 L207.20,408.95 L207.60,410.42 L208.00,410.34 L208.40,410.92 L208.80,409.54 L209.20,409.16 L209.60,408.19 L210.00,409.44 L210.40,408.21 L210.80,408.25 L211.20,408.07 L211.60,408.01 L212.00,404.31 L212.40,407.17 L212.80,405.53 L213.20,403.34 L213.60,403.57 L214.00,404.45 L214.40,402.71 L214.80,403.31 L215.20,401.07 L215.60,400.04 L216.00,398.66 L216.40,396.62 L216.80,396.85 L217.20,397.53 L217.60,394.09 L218.00,391.71 L218.40,395.20 L218.80,392.27 L219.20,390.54 L219.60,387.05 L220.00,393.83 L220.40,385.67 L220.80,375.83 L221.20,379.11 L221.60,378.45 L222.00,374.45 L222.40,371.89 L222.80,370.49 L223.20,367.72 L223.60,364.12 L224.00,362.26 L224.40,359.22 L224.80,360.48 L225.20,354.02 L225.60,359.79 L226.00,358.08 L226.40,350.10 L226.80,352.30 L227.20,346.12 L227.60,340.58 L228.00,344.33 L228.40,344.54 L228.80,336.14 L229.20,333.08 L229.60,329.39 L229.90,328.50 L230.40,333.12 L230.80,331.61 L231.20,339.73 L231.60,349.53 L232.00,346.28 L232.40,352.80 L232.80,356.75 L233.20,357.77 L233.60,364.94 L234.00,364.84 L234.40,373.07 L234.80,373.40 L235.20,376.24 L235.60,388.31 L236.00,388.90 L236.40,394.26 L236.80,400.63 L237.20,399.12 L237.60,402.60 L238.00,402.22 L238.40,405.02 L238.80,405.88 L239.20,409.79 L239.60,410.61 L240.00,409.92 L240.40,410.63 L240.80,410.89 L241.20,411.92 L241.60,412.00 L242.00,412.00 L242.40,412.00 L242.80,412.00" fill="none" stroke="#00ffff" stroke-width="0.55" stroke-linejoin="round"/>
<path d="M196.5,311.0 H297.5" stroke="#7a7a7a" stroke-width="1" fill="none"/>
<path d="M196.5,412.5 H297.5" stroke="#9a9a9a" stroke-width="1" fill="none"/>
<path d="M196.5,310.5 V414.5" stroke="#7a7a7a" stroke-width="1" fill="none"/>
<path d="M297.5,310.5 V414.5" stroke="#666666" stroke-width="1" fill="none"/>
<path d="M194.5,412.5 H196.5 M194.5,404.9 H196.5 M194.5,397.4 H196.5 M194.5,389.8 H196.5 M194.5,382.3 H196.5 M194.5,374.7 H196.5 M194.5,367.2 H196.5 M194.5,359.6 H196.5 M194.5,352.1 H196.5 M194.5,344.5 H196.5 M194.5,337.0 H196.5 M194.5,329.4 H196.5 M194.5,321.9 H196.5 M194.5,314.3 H196.5" stroke="#333" stroke-width="0.8" fill="none"/>
<text transform="translate(189.3,334.0) rotate(-90)" font-size="8.3" text-anchor="middle" fill="#222">200</text>
<text transform="translate(189.3,373.3) rotate(-90)" font-size="8.3" text-anchor="middle" fill="#222">100</text>
<text transform="translate(189.3,408.0) rotate(-90)" font-size="8.3" text-anchor="middle" fill="#222">0</text>
<path d="M197.6,412.5 V414.1 M199.9,412.5 V414.1 M201.7,412.5 V414.1 M203.2,412.5 V414.1 M204.5,412.5 V414.1 M205.7,412.5 V414.1 M213.6,412.5 V414.1 M217.7,412.5 V414.1 M220.5,412.5 V414.1 M222.8,412.5 V414.1 M224.6,412.5 V414.1 M226.1,412.5 V414.1 M227.4,412.5 V414.1 M228.6,412.5 V414.1 M206.8,412.5 V415.0 M236.6,412.5 V414.1 M240.6,412.5 V414.1 M243.5,412.5 V414.1 M245.7,412.5 V414.1 M247.5,412.5 V414.1 M249.0,412.5 V414.1 M250.4,412.5 V414.1 M251.5,412.5 V414.1 M229.7,412.5 V415.0 M259.5,412.5 V414.1 M263.5,412.5 V414.1 M266.4,412.5 V414.1 M268.6,412.5 V414.1 M270.4,412.5 V414.1 M272.0,412.5 V414.1 M273.3,412.5 V414.1 M274.5,412.5 V414.1 M252.6,412.5 V415.0 M282.4,412.5 V414.1 M286.4,412.5 V414.1 M289.3,412.5 V414.1 M291.5,412.5 V414.1 M293.3,412.5 V414.1 M294.9,412.5 V414.1 M296.2,412.5 V414.1 M297.4,412.5 V414.1 M275.5,412.5 V415.0" stroke="#333" stroke-width="0.7" fill="none"/>
<text transform="translate(211.25,421.88) scale(0.8,1)" font-size="6.6" text-anchor="middle" fill="#000" stroke="#000" stroke-width="0.15">10<tspan font-size="3.96" dy="-2.64">2</tspan></text>
<text transform="translate(234.00,421.88) scale(0.8,1)" font-size="6.6" text-anchor="middle" fill="#000" stroke="#000" stroke-width="0.15">10<tspan font-size="3.96" dy="-2.64">3</tspan></text>
<text transform="translate(256.75,421.88) scale(0.8,1)" font-size="6.6" text-anchor="middle" fill="#000" stroke="#000" stroke-width="0.15">10<tspan font-size="3.96" dy="-2.64">4</tspan></text>
<text transform="translate(280.00,421.88) scale(0.8,1)" font-size="6.6" text-anchor="middle" fill="#000" stroke="#000" stroke-width="0.15">10<tspan font-size="3.96" dy="-2.64">5</tspan></text>
<path d="M246.25,334.0 H290" stroke="#7a7070" stroke-width="1" fill="none"/>
<path d="M246.25,329.4 V338.6 M290,329.4 V338.6" stroke="#5a4c4c" stroke-width="1" fill="none"/>
<text transform="translate(268.5,330.85) scale(0.9,1)" font-size="9.3" text-anchor="middle" fill="#000" stroke="#000" stroke-width="0.15">57.87%</text>
<path d="M347.00,411.00 L347.40,411.00 L347.80,411.00 L348.20,411.00 L348.60,411.00 L349.00,411.00 L349.40,411.00 L349.80,410.91 L350.20,410.42 L350.60,409.24 L351.00,408.57 L351.40,409.34 L351.80,408.02 L352.20,407.39 L352.60,407.16 L353.00,407.17 L353.40,404.12 L353.80,403.73 L354.20,403.88 L354.60,402.30 L355.00,399.52 L355.40,400.74 L355.80,395.37 L356.20,397.46 L356.60,396.09 L357.00,395.32 L357.40,391.92 L357.80,390.11 L358.20,387.18 L358.60,386.77 L359.00,388.91 L359.40,386.26 L359.80,382.87 L360.20,382.08 L360.60,380.57 L361.00,380.07 L361.40,373.57 L361.80,374.57 L362.20,371.14 L362.60,368.21 L363.00,373.02 L363.40,371.33 L363.80,366.33 L364.20,362.52 L364.60,369.30 L365.00,363.90 L365.40,364.20 L365.80,355.85 L366.20,361.30 L366.60,362.13 L367.00,354.60 L367.40,353.38 L367.80,352.14 L368.20,349.28 L368.60,352.96 L369.00,349.48 L369.40,336.09 L370.00,335.80 L370.60,347.92 L371.00,345.18 L371.40,342.75 L371.80,339.39 L372.20,335.30 L372.70,328.50 L373.00,331.95 L373.40,344.28 L373.80,338.29 L374.20,350.17 L374.60,350.83 L375.00,345.50 L375.40,361.38 L375.80,362.86 L376.20,364.08 L376.60,370.00 L377.00,369.34 L377.40,375.36 L377.80,379.54 L378.20,383.20 L378.60,387.11 L379.00,386.74 L379.40,390.97 L379.80,399.29 L380.20,402.00 L380.60,403.28 L381.00,406.80 L381.40,404.89 L381.80,408.01 L382.20,408.07 L382.60,409.84 L383.00,410.19 L383.40,410.63 L383.80,410.96 L384.20,411.00 L384.60,411.00 L385.00,411.00 L385.40,411.00 L385.80,411.00" fill="none" stroke="#ff0000" stroke-width="0.55" stroke-linejoin="round"/>
<path d="M347.00,411.00 L347.40,411.00 L347.80,411.00 L348.20,411.00 L348.60,411.00 L349.00,410.96 L349.40,411.00 L349.80,410.62 L350.20,410.37 L350.60,409.83 L351.00,409.84 L351.40,409.41 L351.80,406.50 L352.20,408.74 L352.60,406.69 L353.00,408.39 L353.40,406.60 L353.80,404.31 L354.20,403.91 L354.60,401.05 L355.00,401.77 L355.40,399.20 L355.80,395.55 L356.20,399.14 L356.60,391.28 L357.00,394.05 L357.40,391.16 L357.80,396.29 L358.20,388.95 L358.60,387.77 L359.00,384.77 L359.40,378.96 L359.80,382.68 L360.20,381.75 L360.60,376.04 L361.00,381.65 L361.40,378.90 L361.80,371.87 L362.20,371.30 L362.60,371.28 L363.00,362.36 L363.40,367.34 L363.80,363.63 L364.20,367.13 L364.60,367.60 L365.00,363.30 L365.40,364.53 L365.80,360.30 L366.20,358.74 L366.60,356.96 L367.00,362.91 L367.40,355.28 L367.80,350.30 L368.20,344.21 L368.60,352.14 L369.00,346.05 L369.40,341.81 L369.80,341.21 L370.20,340.99 L370.70,341.40 L371.00,341.83 L371.40,342.29 L371.80,342.49 L372.20,344.61 L372.60,347.07 L373.00,344.65 L373.40,346.08 L373.80,351.60 L374.20,353.43 L374.60,352.47 L375.00,356.26 L375.40,343.92 L375.80,360.19 L376.20,364.96 L376.60,368.67 L377.00,371.44 L377.40,374.91 L377.80,380.13 L378.20,380.18 L378.60,386.27 L379.00,385.65 L379.40,388.64 L379.80,397.26 L380.20,400.00 L380.60,403.50 L381.00,404.61 L381.40,406.23 L381.80,408.38 L382.20,409.00 L382.60,409.55 L383.00,409.77 L383.40,410.53 L383.80,410.80 L384.20,410.96 L384.60,411.00 L385.00,411.00 L385.40,411.00 L385.80,411.00" fill="none" stroke="#00ffff" stroke-width="0.55" stroke-linejoin="round"/>
<path d="M324.5,311.0 H424.5" stroke="#7a7a7a" stroke-width="1" fill="none"/>
<path d="M324.5,411.5 H424.5" stroke="#9a9a9a" stroke-width="1" fill="none"/>
<path d="M324.5,310.5 V413.5" stroke="#7a7a7a" stroke-width="1" fill="none"/>
<path d="M424.5,310.5 V413.5" stroke="#666666" stroke-width="1" fill="none"/>
<path d="M322.5,411.5 H324.5 M322.5,403.9 H324.5 M322.5,396.4 H324.5 M322.5,388.8 H324.5 M322.5,381.3 H324.5 M322.5,373.7 H324.5 M322.5,366.2 H324.5 M322.5,358.6 H324.5 M322.5,351.1 H324.5 M322.5,343.5 H324.5 M322.5,336.0 H324.5 M322.5,328.4 H324.5 M322.5,320.9 H324.5 M322.5,313.3 H324.5" stroke="#333" stroke-width="0.8" fill="none"/>
<text transform="translate(317.3,334.0) rotate(-90)" font-size="8.3" text-anchor="middle" fill="#222">200</text>
<text transform="translate(317.3,373.3) rotate(-90)" font-size="8.3" text-anchor="middle" fill="#222">100</text>
<text transform="translate(317.3,408.0) rotate(-90)" font-size="8.3" text-anchor="middle" fill="#222">0</text>
<path d="M325.7,411.5 V413.1 M327.8,411.5 V413.1 M329.6,411.5 V413.1 M331.1,411.5 V413.1 M332.4,411.5 V413.1 M333.5,411.5 V413.1 M341.2,411.5 V413.1 M345.1,411.5 V413.1 M347.8,411.5 V413.1 M350.0,411.5 V413.1 M351.7,411.5 V413.1 M353.2,411.5 V413.1 M354.5,411.5 V413.1 M355.6,411.5 V413.1 M334.5,411.5 V414.0 M363.3,411.5 V413.1 M367.2,411.5 V413.1 M369.9,411.5 V413.1 M372.1,411.5 V413.1 M373.8,411.5 V413.1 M375.3,411.5 V413.1 M376.6,411.5 V413.1 M377.7,411.5 V413.1 M356.6,411.5 V414.0 M385.4,411.5 V413.1 M389.3,411.5 V413.1 M392.1,411.5 V413.1 M394.2,411.5 V413.1 M396.0,411.5 V413.1 M397.4,411.5 V413.1 M398.7,411.5 V413.1 M399.9,411.5 V413.1 M378.8,411.5 V414.0 M407.5,411.5 V413.1 M411.4,411.5 V413.1 M414.2,411.5 V413.1 M416.3,411.5 V413.1 M418.1,411.5 V413.1 M419.6,411.5 V413.1 M420.9,411.5 V413.1 M422.0,411.5 V413.1 M400.9,411.5 V414.0" stroke="#333" stroke-width="0.7" fill="none"/>
<text transform="translate(339.00,421.88) scale(0.8,1)" font-size="6.6" text-anchor="middle" fill="#000" stroke="#000" stroke-width="0.15">10<tspan font-size="3.96" dy="-2.64">2</tspan></text>
<text transform="translate(361.00,421.88) scale(0.8,1)" font-size="6.6" text-anchor="middle" fill="#000" stroke="#000" stroke-width="0.15">10<tspan font-size="3.96" dy="-2.64">3</tspan></text>
<text transform="translate(382.50,421.88) scale(0.8,1)" font-size="6.6" text-anchor="middle" fill="#000" stroke="#000" stroke-width="0.15">10<tspan font-size="3.96" dy="-2.64">4</tspan></text>
<text transform="translate(405.38,421.88) scale(0.8,1)" font-size="6.6" text-anchor="middle" fill="#000" stroke="#000" stroke-width="0.15">10<tspan font-size="3.96" dy="-2.64">5</tspan></text>
<path d="M384.25,333.5 H421.25" stroke="#5a4c4c" stroke-width="1" fill="none"/>
<path d="M384.25,328.9 V338.1 M421.25,328.9 V338.1" stroke="#5a4c4c" stroke-width="1" fill="none"/>
<text transform="translate(403.75,330.35) scale(0.9,1)" font-size="9.3" text-anchor="middle" fill="#000" stroke="#000" stroke-width="0.15">0.04%</text>
<path d="M474.00,412.00 L474.40,412.00 L474.80,412.00 L475.20,412.00 L475.60,412.00 L476.00,411.92 L476.40,412.00 L476.80,412.00 L477.20,411.63 L477.60,410.35 L478.00,410.67 L478.40,410.17 L478.80,409.55 L479.20,409.82 L479.60,407.30 L480.00,405.83 L480.40,405.42 L480.80,406.78 L481.20,403.36 L481.60,402.92 L482.00,402.83 L482.40,400.89 L482.80,400.03 L483.20,397.21 L483.60,396.72 L484.00,397.69 L484.40,392.66 L484.80,395.64 L485.20,389.50 L485.60,390.10 L486.00,388.07 L486.40,387.69 L486.80,385.56 L487.20,385.54 L487.60,382.32 L488.00,379.39 L488.40,374.69 L488.80,374.27 L489.20,369.80 L489.60,369.13 L490.00,375.29 L490.40,370.47 L490.80,369.68 L491.20,366.90 L491.60,369.23 L492.00,361.30 L492.40,357.55 L492.80,355.07 L493.20,351.73 L493.60,353.15 L494.00,350.55 L494.40,346.88 L494.80,347.10 L495.40,344.90 L496.00,342.44 L496.40,345.74 L496.80,345.17 L497.20,352.37 L497.60,350.38 L498.00,348.43 L498.60,342.50 L499.20,344.92 L499.60,341.72 L500.00,349.41 L500.40,354.87 L500.80,361.40 L501.20,362.98 L501.60,363.56 L502.00,374.03 L502.40,371.25 L502.80,368.42 L503.20,375.82 L503.60,380.96 L504.00,381.95 L504.40,386.12 L504.80,387.41 L505.20,392.03 L505.60,394.20 L506.00,397.26 L506.40,397.01 L506.80,403.82 L507.20,404.72 L507.60,407.67 L508.00,408.03 L508.40,409.89 L508.80,409.94 L509.20,411.17 L509.60,411.66 L510.00,411.60 L510.40,411.84 L510.80,412.00 L511.20,412.00 L511.60,412.00 L512.00,412.00" fill="none" stroke="#ff0000" stroke-width="0.55" stroke-linejoin="round"/>
<path d="M475.50,412.00 L475.90,412.00 L476.30,412.00 L476.70,412.00 L477.10,412.00 L477.50,412.00 L477.90,412.00 L478.30,411.73 L478.70,411.04 L479.10,412.00 L479.50,409.96 L479.90,410.26 L480.30,409.86 L480.70,411.22 L481.10,408.40 L481.50,406.09 L481.90,407.11 L482.30,405.04 L482.70,405.65 L483.10,404.58 L483.50,402.94 L483.90,400.14 L484.30,403.02 L484.70,398.01 L485.10,398.77 L485.50,398.47 L485.90,393.87 L486.30,392.73 L486.70,389.42 L487.10,391.51 L487.50,382.54 L487.90,384.66 L488.30,380.21 L488.70,379.94 L489.10,378.94 L489.50,381.82 L489.90,375.33 L490.30,372.81 L490.70,366.24 L491.10,370.82 L491.50,374.92 L491.90,364.57 L492.30,362.52 L492.70,361.17 L493.10,355.63 L493.50,352.21 L493.90,357.35 L494.30,353.00 L494.70,351.90 L495.10,345.49 L495.50,354.38 L495.90,340.20 L496.30,340.54 L496.70,347.10 L497.10,340.60 L497.50,346.29 L497.90,345.92 L498.30,334.94 L498.70,337.17 L499.10,335.95 L499.50,329.40 L499.90,332.21 L500.30,337.77 L500.70,351.69 L501.10,337.31 L501.40,336.70 L501.90,340.17 L502.30,342.58 L502.70,352.32 L503.10,353.39 L503.50,353.40 L503.90,362.96 L504.30,368.49 L504.70,369.43 L505.10,393.52 L505.50,380.72 L505.90,384.65 L506.30,387.49 L506.70,387.83 L507.10,394.66 L507.50,398.44 L507.90,400.71 L508.30,404.37 L508.70,406.81 L509.10,407.76 L509.50,410.78 L509.90,411.49 L510.30,411.84 L510.70,412.00 L511.10,411.70 L511.50,412.00" fill="none" stroke="#00ffff" stroke-width="0.55" stroke-linejoin="round"/>
<path d="M452.5,311.0 H553.5" stroke="#7a7a7a" stroke-width="1" fill="none"/>
<path d="M452.5,412.5 H553.5" stroke="#9a9a9a" stroke-width="1" fill="none"/>
<path d="M452.5,310.5 V414.5" stroke="#7a7a7a" stroke-width="1" fill="none"/>
<path d="M553.5,310.5 V414.5" stroke="#666666" stroke-width="1" fill="none"/>
<path d="M450.5,412.5 H452.5 M450.5,406.4 H452.5 M450.5,400.3 H452.5 M450.5,394.3 H452.5 M450.5,388.2 H452.5 M450.5,382.1 H452.5 M450.5,376.0 H452.5 M450.5,369.9 H452.5 M450.5,363.9 H452.5 M450.5,357.8 H452.5 M450.5,351.7 H452.5 M450.5,345.6 H452.5 M450.5,339.5 H452.5 M450.5,333.5 H452.5 M450.5,327.4 H452.5 M450.5,321.3 H452.5 M450.5,315.2 H452.5" stroke="#333" stroke-width="0.8" fill="none"/>
<text transform="translate(445.3,320.0) rotate(-90)" font-size="8.3" text-anchor="middle" fill="#222">300</text>
<text transform="translate(445.3,350.5) rotate(-90)" font-size="8.3" text-anchor="middle" fill="#222">200</text>
<text transform="translate(445.3,381.0) rotate(-90)" font-size="8.3" text-anchor="middle" fill="#222">100</text>
<text transform="translate(445.3,408.5) rotate(-90)" font-size="8.3" text-anchor="middle" fill="#222">0</text>
<path d="M452.6,412.5 V414.1 M453.8,412.5 V414.1 M461.9,412.5 V414.1 M465.9,412.5 V414.1 M468.8,412.5 V414.1 M471.1,412.5 V414.1 M472.9,412.5 V414.1 M474.5,412.5 V414.1 M475.8,412.5 V414.1 M477.0,412.5 V414.1 M454.9,412.5 V415.0 M485.1,412.5 V414.1 M489.2,412.5 V414.1 M492.1,412.5 V414.1 M494.3,412.5 V414.1 M496.1,412.5 V414.1 M497.7,412.5 V414.1 M499.0,412.5 V414.1 M500.2,412.5 V414.1 M478.1,412.5 V415.0 M508.3,412.5 V414.1 M512.4,412.5 V414.1 M515.3,412.5 V414.1 M517.5,412.5 V414.1 M519.4,412.5 V414.1 M520.9,412.5 V414.1 M522.3,412.5 V414.1 M523.4,412.5 V414.1 M501.3,412.5 V415.0 M531.5,412.5 V414.1 M535.6,412.5 V414.1 M538.5,412.5 V414.1 M540.7,412.5 V414.1 M542.6,412.5 V414.1 M544.1,412.5 V414.1 M545.5,412.5 V414.1 M546.6,412.5 V414.1 M524.5,412.5 V415.0" stroke="#333" stroke-width="0.7" fill="none"/>
<text transform="translate(459.38,421.88) scale(0.8,1)" font-size="6.6" text-anchor="middle" fill="#000" stroke="#000" stroke-width="0.15">10<tspan font-size="3.96" dy="-2.64">2</tspan></text>
<text transform="translate(481.88,421.88) scale(0.8,1)" font-size="6.6" text-anchor="middle" fill="#000" stroke="#000" stroke-width="0.15">10<tspan font-size="3.96" dy="-2.64">3</tspan></text>
<text transform="translate(505.62,421.88) scale(0.8,1)" font-size="6.6" text-anchor="middle" fill="#000" stroke="#000" stroke-width="0.15">10<tspan font-size="3.96" dy="-2.64">4</tspan></text>
<text transform="translate(529.00,421.88) scale(0.8,1)" font-size="6.6" text-anchor="middle" fill="#000" stroke="#000" stroke-width="0.15">10<tspan font-size="3.96" dy="-2.64">5</tspan></text>
<path d="M512.5,334.0 H548.25" stroke="#7a7070" stroke-width="1" fill="none"/>
<path d="M512.5,329.4 V338.6 M548.25,329.4 V338.6" stroke="#5a4c4c" stroke-width="1" fill="none"/>
<text transform="translate(530.9,329.85) scale(0.9,1)" font-size="9.3" text-anchor="middle" fill="#000" stroke="#000" stroke-width="0.15">0.03%</text>
<path d="M608.50,412.00 L608.90,412.00 L609.30,412.00 L609.70,412.00 L610.10,412.00 L610.50,412.00 L610.90,412.00 L611.30,411.60 L611.70,411.20 L612.10,410.31 L612.50,409.46 L612.90,410.31 L613.30,408.76 L613.70,407.68 L614.10,405.67 L614.50,406.45 L614.90,403.69 L615.30,399.92 L615.70,395.65 L616.10,394.98 L616.50,393.61 L616.90,392.58 L617.30,391.38 L617.70,388.25 L618.10,380.10 L618.50,383.71 L618.90,382.33 L619.30,373.83 L619.70,375.17 L620.10,370.13 L620.50,373.97 L620.90,365.81 L621.30,366.09 L621.70,365.11 L622.10,356.26 L622.50,345.84 L622.90,357.94 L623.30,345.16 L623.70,345.55 L624.20,345.70 L624.50,345.43 L624.90,347.37 L625.30,352.07 L625.70,350.60 L626.10,346.61 L626.50,346.13 L626.90,351.25 L627.30,346.49 L627.80,348.20 L628.10,348.11 L628.50,353.60 L628.90,355.28 L629.30,356.27 L629.70,364.17 L630.10,355.75 L630.50,364.32 L630.90,368.15 L631.30,371.05 L631.70,373.80 L632.10,373.87 L632.50,374.70 L632.90,379.44 L633.30,382.89 L633.70,386.69 L634.10,392.25 L634.50,389.25 L634.90,393.10 L635.30,392.53 L635.70,394.58 L636.10,399.22 L636.50,396.92 L636.90,402.05 L637.30,405.78 L637.70,407.46 L638.10,409.27 L638.50,411.04 L638.90,411.62 L639.30,412.00 L639.70,412.00 L640.10,412.00 L640.50,412.00" fill="none" stroke="#ff0000" stroke-width="0.55" stroke-linejoin="round"/>
<path d="M606.00,412.00 L606.40,412.00 L606.80,412.00 L607.20,412.00 L607.60,412.00 L608.00,411.96 L608.40,411.73 L608.80,411.43 L609.20,409.83 L609.60,409.24 L610.00,408.76 L610.40,408.44 L610.80,406.88 L611.20,404.97 L611.60,402.15 L612.00,401.76 L612.40,401.30 L612.80,402.97 L613.20,399.48 L613.60,396.88 L614.00,391.50 L614.40,393.29 L614.80,390.13 L615.20,389.11 L615.60,388.64 L616.00,379.66 L616.40,380.15 L616.80,373.41 L617.20,371.26 L617.60,370.26 L618.00,362.48 L618.40,355.02 L618.80,356.03 L619.20,354.15 L619.60,348.20 L620.00,340.79 L620.40,340.64 L620.80,338.33 L621.20,337.84 L621.60,334.67 L622.00,341.65 L622.40,335.64 L622.80,340.83 L623.20,334.91 L623.60,329.68 L623.90,328.50 L624.40,335.75 L624.80,337.30 L625.20,333.14 L625.60,343.47 L626.00,350.94 L626.40,360.07 L626.80,358.56 L627.20,353.79 L627.60,358.91 L628.00,364.87 L628.40,365.51 L628.80,376.35 L629.20,374.01 L629.60,379.42 L630.00,386.03 L630.40,391.40 L630.80,393.94 L631.20,397.94 L631.60,402.29 L632.00,405.49 L632.40,408.23 L632.80,411.12 L633.20,412.00 L633.60,412.00 L634.00,412.00 L634.40,412.00" fill="none" stroke="#00ffff" stroke-width="0.55" stroke-linejoin="round"/>
<path d="M579.5,311.0 H679.5" stroke="#7a7a7a" stroke-width="1" fill="none"/>
<path d="M579.5,412.5 H679.5" stroke="#9a9a9a" stroke-width="1" fill="none"/>
<path d="M579.5,310.5 V414.5" stroke="#7a7a7a" stroke-width="1" fill="none"/>
<path d="M679.5,310.5 V414.5" stroke="#666666" stroke-width="1" fill="none"/>
<path d="M577.5,412.5 H579.5 M577.5,406.4 H579.5 M577.5,400.3 H579.5 M577.5,394.3 H579.5 M577.5,388.2 H579.5 M577.5,382.1 H579.5 M577.5,376.0 H579.5 M577.5,369.9 H579.5 M577.5,363.9 H579.5 M577.5,357.8 H579.5 M577.5,351.7 H579.5 M577.5,345.6 H579.5 M577.5,339.5 H579.5 M577.5,333.5 H579.5 M577.5,327.4 H579.5 M577.5,321.3 H579.5 M577.5,315.2 H579.5" stroke="#333" stroke-width="0.8" fill="none"/>
<text transform="translate(572.3,320.0) rotate(-90)" font-size="8.3" text-anchor="middle" fill="#222">300</text>
<text transform="translate(572.3,350.5) rotate(-90)" font-size="8.3" text-anchor="middle" fill="#222">200</text>
<text transform="translate(572.3,381.0) rotate(-90)" font-size="8.3" text-anchor="middle" fill="#222">100</text>
<text transform="translate(572.3,408.5) rotate(-90)" font-size="8.3" text-anchor="middle" fill="#222">0</text>
<path d="M580.3,412.5 V414.1 M582.6,412.5 V414.1 M584.4,412.5 V414.1 M586.0,412.5 V414.1 M587.4,412.5 V414.1 M588.6,412.5 V414.1 M596.6,412.5 V414.1 M600.8,412.5 V414.1 M603.7,412.5 V414.1 M605.9,412.5 V414.1 M607.8,412.5 V414.1 M609.3,412.5 V414.1 M610.7,412.5 V414.1 M611.9,412.5 V414.1 M589.6,412.5 V415.0 M620.0,412.5 V414.1 M624.1,412.5 V414.1 M627.0,412.5 V414.1 M629.3,412.5 V414.1 M631.1,412.5 V414.1 M632.7,412.5 V414.1 M634.0,412.5 V414.1 M635.2,412.5 V414.1 M613.0,412.5 V415.0 M643.3,412.5 V414.1 M647.4,412.5 V414.1 M650.3,412.5 V414.1 M652.6,412.5 V414.1 M654.4,412.5 V414.1 M656.0,412.5 V414.1 M657.4,412.5 V414.1 M658.6,412.5 V414.1 M636.3,412.5 V415.0 M666.6,412.5 V414.1 M670.8,412.5 V414.1 M673.7,412.5 V414.1 M675.9,412.5 V414.1 M677.8,412.5 V414.1 M679.3,412.5 V414.1 M659.6,412.5 V415.0" stroke="#333" stroke-width="0.7" fill="none"/>
<text transform="translate(594.12,421.88) scale(0.8,1)" font-size="6.6" text-anchor="middle" fill="#000" stroke="#000" stroke-width="0.15">10<tspan font-size="3.96" dy="-2.64">3</tspan></text>
<text transform="translate(617.00,421.88) scale(0.8,1)" font-size="6.6" text-anchor="middle" fill="#000" stroke="#000" stroke-width="0.15">10<tspan font-size="3.96" dy="-2.64">4</tspan></text>
<text transform="translate(641.38,421.88) scale(0.8,1)" font-size="6.6" text-anchor="middle" fill="#000" stroke="#000" stroke-width="0.15">10<tspan font-size="3.96" dy="-2.64">5</tspan></text>
<text transform="translate(664.12,421.88) scale(0.8,1)" font-size="6.6" text-anchor="middle" fill="#000" stroke="#000" stroke-width="0.15">10<tspan font-size="3.96" dy="-2.64">6</tspan></text>
<path d="M634.75,334.0 H676.5" stroke="#7a7070" stroke-width="1" fill="none"/>
<path d="M634.75,329.4 V338.6 M676.5,329.4 V338.6" stroke="#5a4c4c" stroke-width="1" fill="none"/>
<text transform="translate(657.25,329.85) scale(0.9,1)" font-size="9.3" text-anchor="middle" fill="#000" stroke="#000" stroke-width="0.15">6.89%</text>
<path d="M115.50,545.00 L115.90,545.00 L116.30,545.00 L116.70,545.00 L117.10,545.00 L117.50,545.00 L117.90,544.78 L118.30,544.61 L118.70,544.36 L119.10,543.89 L119.50,543.47 L119.90,543.30 L120.30,542.34 L120.70,542.22 L121.10,542.70 L121.50,540.19 L121.90,542.99 L122.30,537.00 L122.70,539.93 L123.10,537.12 L123.50,537.54 L123.90,536.19 L124.30,537.36 L124.70,535.83 L125.10,533.20 L125.50,531.82 L125.90,535.67 L126.30,532.19 L126.70,530.12 L127.10,527.92 L127.50,531.22 L127.90,532.66 L128.30,529.74 L128.70,528.45 L129.10,527.74 L129.50,525.59 L129.90,521.60 L130.30,526.09 L130.70,531.91 L131.10,524.89 L131.50,518.44 L131.90,521.26 L132.30,512.19 L132.70,513.96 L133.10,506.55 L133.50,504.96 L133.90,510.05 L134.30,508.59 L134.70,503.97 L135.10,500.44 L135.50,501.25 L135.90,500.79 L136.30,499.59 L136.70,498.48 L137.10,499.78 L137.50,494.89 L137.90,490.53 L138.30,483.83 L138.70,482.80 L139.10,482.90 L139.50,483.35 L139.90,490.12 L140.30,492.24 L140.70,495.80 L141.10,496.58 L141.50,491.05 L141.90,504.57 L142.30,504.73 L142.70,502.75 L143.10,504.13 L143.50,502.13 L143.90,500.38 L144.30,503.11 L144.70,499.02 L145.10,505.24 L145.50,501.57 L145.90,500.21 L146.30,503.44 L146.90,500.80 L147.50,503.32 L147.90,495.93 L148.30,506.35 L148.70,500.49 L149.10,498.62 L149.50,498.05 L149.90,497.60 L150.30,497.68 L150.70,508.82 L151.10,500.78 L151.50,506.55 L151.90,499.73 L152.30,499.29 L152.70,494.83 L153.10,494.63 L153.50,497.60 L153.90,500.21 L154.30,492.79 L154.70,499.23 L155.10,504.29 L155.50,502.72 L155.90,504.50 L156.30,507.53 L156.70,510.53 L157.10,516.05 L157.50,513.90 L157.90,515.58 L158.30,521.39 L158.70,522.75 L159.10,524.71 L159.50,527.24 L159.90,526.45 L160.30,531.11 L160.70,534.45 L161.10,533.71 L161.50,532.81 L161.90,536.45 L162.30,537.24 L162.70,536.62 L163.10,539.86 L163.50,540.45 L163.90,541.28 L164.30,543.04 L164.70,542.23 L165.10,542.81 L165.50,543.82 L165.90,544.71 L166.30,545.00 L166.70,545.00 L167.10,545.00 L167.50,545.00 L167.90,545.00" fill="none" stroke="#ff0000" stroke-width="0.55" stroke-linejoin="round"/>
<path d="M70.50,545.00 L70.90,545.00 L71.30,545.00 L71.70,545.00 L72.10,545.00 L72.50,545.00 L72.90,544.84 L73.30,544.44 L73.70,544.57 L74.10,543.18 L74.50,543.26 L74.90,541.55 L75.30,541.45 L75.70,540.25 L76.10,539.93 L76.50,539.02 L76.90,537.22 L77.30,539.80 L77.70,536.30 L78.10,533.77 L78.50,533.56 L78.90,532.67 L79.30,528.25 L79.70,536.01 L80.10,525.93 L80.50,527.87 L80.90,526.28 L81.30,524.59 L81.70,521.20 L82.10,523.74 L82.50,523.20 L82.90,516.07 L83.30,508.00 L83.70,512.02 L84.10,506.50 L84.50,506.52 L84.90,504.15 L85.30,500.05 L85.70,494.91 L86.10,493.01 L86.50,493.66 L86.90,491.30 L87.30,481.78 L87.70,481.42 L88.10,490.33 L88.50,476.67 L88.90,476.52 L89.30,479.37 L89.70,471.67 L90.10,462.86 L90.50,467.83 L90.90,468.17 L91.30,469.62 L91.70,467.65 L92.10,468.10 L92.50,468.63 L92.90,469.95 L93.30,466.37 L93.70,478.81 L94.10,463.72 L94.50,462.40 L94.90,466.69 L95.30,470.44 L95.70,482.24 L96.10,478.34 L96.50,474.29 L96.90,478.97 L97.30,479.95 L97.70,482.58 L98.10,486.38 L98.50,491.35 L98.90,491.33 L99.30,492.42 L99.70,496.87 L100.10,499.06 L100.50,502.26 L100.90,504.71 L101.30,507.73 L101.70,507.55 L102.10,514.62 L102.50,517.07 L102.90,519.75 L103.30,522.73 L103.70,524.35 L104.10,523.41 L104.50,531.55 L104.90,530.63 L105.30,532.94 L105.70,534.30 L106.10,535.77 L106.50,535.87 L106.90,539.72 L107.30,537.98 L107.70,538.85 L108.10,540.20 L108.50,539.59 L108.90,541.51 L109.30,539.77 L109.70,542.82 L110.10,542.54 L110.50,542.80 L110.90,543.24 L111.30,542.71 L111.70,544.35 L112.10,544.67 L112.50,544.08 L112.90,544.03 L113.30,544.38 L113.70,544.55 L114.10,544.65 L114.50,544.85 L114.90,545.00 L115.30,545.00 L115.70,545.00" fill="none" stroke="#00ffff" stroke-width="0.55" stroke-linejoin="round"/>
<path d="M69.5,445.5 H169.5" stroke="#7a7a7a" stroke-width="1" fill="none"/>
<path d="M69.5,545.5 H169.5" stroke="#9a9a9a" stroke-width="1" fill="none"/>
<path d="M69.5,445.0 V547.5" stroke="#7a7a7a" stroke-width="1" fill="none"/>
<path d="M169.5,445.0 V547.5" stroke="#666666" stroke-width="1" fill="none"/>
<path d="M67.5,545.5 H69.5 M67.5,537.7 H69.5 M67.5,529.9 H69.5 M67.5,522.1 H69.5 M67.5,514.3 H69.5 M67.5,506.5 H69.5 M67.5,498.7 H69.5 M67.5,490.9 H69.5 M67.5,483.1 H69.5 M67.5,475.3 H69.5 M67.5,467.5 H69.5 M67.5,459.7 H69.5 M67.5,451.9 H69.5" stroke="#333" stroke-width="0.8" fill="none"/>
<text transform="translate(62.3,468.0) rotate(-90)" font-size="8.3" text-anchor="middle" fill="#222">200</text>
<text transform="translate(62.3,506.5) rotate(-90)" font-size="8.3" text-anchor="middle" fill="#222">100</text>
<text transform="translate(62.3,541.5) rotate(-90)" font-size="8.3" text-anchor="middle" fill="#222">0</text>
<path d="M71.0,545.5 V547.1 M75.1,545.5 V547.1 M78.1,545.5 V547.1 M80.4,545.5 V547.1 M82.2,545.5 V547.1 M83.8,545.5 V547.1 M85.2,545.5 V547.1 M86.4,545.5 V547.1 M94.6,545.5 V547.1 M98.8,545.5 V547.1 M101.7,545.5 V547.1 M104.0,545.5 V547.1 M105.9,545.5 V547.1 M107.5,545.5 V547.1 M108.9,545.5 V547.1 M110.1,545.5 V547.1 M87.5,545.5 V548.0 M118.3,545.5 V547.1 M122.5,545.5 V547.1 M125.4,545.5 V547.1 M127.7,545.5 V547.1 M129.6,545.5 V547.1 M131.2,545.5 V547.1 M132.5,545.5 V547.1 M133.8,545.5 V547.1 M111.2,545.5 V548.0 M142.0,545.5 V547.1 M146.1,545.5 V547.1 M149.1,545.5 V547.1 M151.4,545.5 V547.1 M153.2,545.5 V547.1 M154.8,545.5 V547.1 M156.2,545.5 V547.1 M157.4,545.5 V547.1 M134.8,545.5 V548.0 M165.6,545.5 V547.1 M158.5,545.5 V548.0" stroke="#333" stroke-width="0.7" fill="none"/>
<text transform="translate(92.50,554.63) scale(0.8,1)" font-size="7.3" text-anchor="middle" fill="#000" stroke="#000" stroke-width="0.15">10<tspan font-size="4.38" dy="-2.92">3</tspan></text>
<text transform="translate(116.00,554.63) scale(0.8,1)" font-size="7.3" text-anchor="middle" fill="#000" stroke="#000" stroke-width="0.15">10<tspan font-size="4.38" dy="-2.92">4</tspan></text>
<text transform="translate(139.00,554.63) scale(0.8,1)" font-size="7.3" text-anchor="middle" fill="#000" stroke="#000" stroke-width="0.15">10<tspan font-size="4.38" dy="-2.92">5</tspan></text>
<text transform="translate(163.50,554.63) scale(0.8,1)" font-size="7.3" text-anchor="middle" fill="#000" stroke="#000" stroke-width="0.15">10<tspan font-size="4.38" dy="-2.92">6</tspan></text>
<path d="M118.25,467.5 H164.25" stroke="#5a4c4c" stroke-width="1" fill="none"/>
<path d="M118.25,462.9 V472.1 M164.25,462.9 V472.1" stroke="#5a4c4c" stroke-width="1" fill="none"/>
<text transform="translate(140.4,463.60) scale(0.9,1)" font-size="9.3" text-anchor="middle" fill="#000" stroke="#000" stroke-width="0.15">99.54%</text>
<path d="M196.80,521.22 L197.20,545.00 L197.60,543.49 L198.00,542.68 L198.40,542.76 L198.80,542.27 L199.20,542.06 L199.60,542.42 L200.00,542.16 L200.40,543.27 L200.80,540.83 L201.20,540.59 L201.60,541.93 L202.00,539.49 L202.40,542.42 L202.80,540.31 L203.20,540.10 L203.60,536.87 L204.00,537.30 L204.40,537.33 L204.80,534.84 L205.20,536.64 L205.60,535.54 L206.00,531.74 L206.40,530.84 L206.80,528.57 L207.20,527.47 L207.60,524.72 L208.00,520.86 L208.40,518.03 L208.80,513.82 L209.20,513.04 L209.60,509.97 L210.00,509.94 L210.40,506.59 L210.80,503.08 L211.20,498.46 L211.60,503.81 L212.00,487.80 L212.40,493.88 L212.80,487.43 L213.20,486.26 L213.60,484.69 L214.00,484.91 L214.40,482.23 L214.80,480.96 L215.20,478.34 L215.60,478.98 L216.00,474.07 L216.40,472.67 L216.80,479.57 L217.20,469.10 L217.60,472.37 L218.00,463.24 L218.60,462.40 L219.20,470.31 L219.60,479.00 L220.00,489.10 L220.40,485.82 L220.80,479.09 L221.20,484.60 L221.60,480.18 L222.20,476.30 L222.80,479.88 L223.20,478.36 L223.60,492.23 L224.00,492.84 L224.40,496.00 L224.80,499.49 L225.20,503.93 L225.60,505.52 L226.00,503.92 L226.40,512.54 L226.80,514.73 L227.20,516.45 L227.60,519.30 L228.00,521.88 L228.40,527.28 L228.80,528.51 L229.20,530.46 L229.60,530.42 L230.00,533.17 L230.40,532.38 L230.80,536.54 L231.20,537.76 L231.60,538.35 L232.00,537.53 L232.40,541.56 L232.80,540.25 L233.20,542.01 L233.60,542.69 L234.00,542.97 L234.40,544.39 L234.80,544.51 L235.20,543.16 L235.60,544.81 L236.00,544.57 L236.40,544.39 L236.80,544.89 L237.20,544.92 L237.60,545.00 L238.00,545.00 L238.40,545.00 L238.80,545.00" fill="none" stroke="#ff0000" stroke-width="0.55" stroke-linejoin="round"/>
<path d="M197.60,544.11 L198.00,544.15 L198.40,544.28 L198.80,543.44 L199.20,543.43 L199.60,543.50 L200.00,542.89 L200.40,543.60 L200.80,542.66 L201.20,542.27 L201.60,542.51 L202.00,540.19 L202.40,540.52 L202.80,539.95 L203.20,538.73 L203.60,539.10 L204.00,538.05 L204.40,538.42 L204.80,537.21 L205.20,531.78 L205.60,534.45 L206.00,536.54 L206.40,532.03 L206.80,527.08 L207.20,527.99 L207.60,521.43 L208.00,525.65 L208.40,523.79 L208.80,523.69 L209.20,518.94 L209.60,514.29 L210.00,513.93 L210.40,504.98 L210.80,506.01 L211.20,495.70 L211.60,497.66 L212.00,497.14 L212.40,498.12 L212.80,492.16 L213.20,494.20 L213.60,488.00 L214.00,484.44 L214.40,484.66 L214.80,486.25 L215.20,474.47 L215.60,476.44 L216.00,478.44 L216.40,475.07 L216.80,474.60 L217.20,479.67 L217.60,471.09 L218.00,477.62 L218.40,477.49 L218.80,472.51 L219.20,480.64 L219.60,472.97 L220.00,471.89 L220.40,475.36 L220.80,471.96 L221.40,468.10 L222.00,480.55 L222.40,479.54 L222.80,489.28 L223.20,479.99 L223.60,487.62 L224.00,485.34 L224.40,491.76 L224.80,492.00 L225.20,503.43 L225.60,500.09 L226.00,505.37 L226.40,512.31 L226.80,514.33 L227.20,514.52 L227.60,521.77 L228.00,515.46 L228.40,523.30 L228.80,527.93 L229.20,528.52 L229.60,529.88 L230.00,533.72 L230.40,530.03 L230.80,532.13 L231.20,535.75 L231.60,537.26 L232.00,537.88 L232.40,538.10 L232.80,538.66 L233.20,539.33 L233.60,539.67 L234.00,541.80 L234.40,542.14 L234.80,542.38 L235.20,543.41 L235.60,542.76 L236.00,543.07 L236.40,543.06 L236.80,543.85 L237.20,544.55 L237.60,544.98 L238.00,544.52 L238.40,544.44 L238.80,544.83 L239.20,545.00 L239.60,545.00 L240.00,545.00 L240.40,545.00 L240.80,545.00" fill="none" stroke="#00ffff" stroke-width="0.55" stroke-linejoin="round"/>
<path d="M196.5,445.5 H296.5" stroke="#7a7a7a" stroke-width="1" fill="none"/>
<path d="M196.5,545.5 H296.5" stroke="#9a9a9a" stroke-width="1" fill="none"/>
<path d="M196.5,445.0 V547.5" stroke="#7a7a7a" stroke-width="1" fill="none"/>
<path d="M296.5,445.0 V547.5" stroke="#666666" stroke-width="1" fill="none"/>
<path d="M194.5,545.5 H196.5 M194.5,537.7 H196.5 M194.5,529.9 H196.5 M194.5,522.1 H196.5 M194.5,514.3 H196.5 M194.5,506.5 H196.5 M194.5,498.7 H196.5 M194.5,490.9 H196.5 M194.5,483.1 H196.5 M194.5,475.3 H196.5 M194.5,467.5 H196.5 M194.5,459.7 H196.5 M194.5,451.9 H196.5" stroke="#333" stroke-width="0.8" fill="none"/>
<text transform="translate(189.3,468.0) rotate(-90)" font-size="8.3" text-anchor="middle" fill="#222">200</text>
<text transform="translate(189.3,506.5) rotate(-90)" font-size="8.3" text-anchor="middle" fill="#222">100</text>
<text transform="translate(189.3,541.5) rotate(-90)" font-size="8.3" text-anchor="middle" fill="#222">0</text>
<path d="M199.0,545.5 V547.1 M201.9,545.5 V547.1 M204.2,545.5 V547.1 M206.1,545.5 V547.1 M207.6,545.5 V547.1 M209.0,545.5 V547.1 M210.2,545.5 V547.1 M218.3,545.5 V547.1 M222.4,545.5 V547.1 M225.3,545.5 V547.1 M227.6,545.5 V547.1 M229.5,545.5 V547.1 M231.0,545.5 V547.1 M232.4,545.5 V547.1 M233.6,545.5 V547.1 M211.2,545.5 V548.0 M241.7,545.5 V547.1 M245.8,545.5 V547.1 M248.8,545.5 V547.1 M251.0,545.5 V547.1 M252.9,545.5 V547.1 M254.5,545.5 V547.1 M255.8,545.5 V547.1 M257.0,545.5 V547.1 M234.7,545.5 V548.0 M265.1,545.5 V547.1 M269.3,545.5 V547.1 M272.2,545.5 V547.1 M274.5,545.5 V547.1 M276.3,545.5 V547.1 M277.9,545.5 V547.1 M279.2,545.5 V547.1 M280.4,545.5 V547.1 M258.1,545.5 V548.0 M288.5,545.5 V547.1 M292.7,545.5 V547.1 M295.6,545.5 V547.1 M281.5,545.5 V548.0" stroke="#333" stroke-width="0.7" fill="none"/>
<text transform="translate(216.25,554.63) scale(0.8,1)" font-size="7.3" text-anchor="middle" fill="#000" stroke="#000" stroke-width="0.15">10<tspan font-size="4.38" dy="-2.92">3</tspan></text>
<text transform="translate(240.38,554.63) scale(0.8,1)" font-size="7.3" text-anchor="middle" fill="#000" stroke="#000" stroke-width="0.15">10<tspan font-size="4.38" dy="-2.92">4</tspan></text>
<text transform="translate(263.50,554.63) scale(0.8,1)" font-size="7.3" text-anchor="middle" fill="#000" stroke="#000" stroke-width="0.15">10<tspan font-size="4.38" dy="-2.92">5</tspan></text>
<text transform="translate(286.50,554.63) scale(0.8,1)" font-size="7.3" text-anchor="middle" fill="#000" stroke="#000" stroke-width="0.15">10<tspan font-size="4.38" dy="-2.92">6</tspan></text>
<path d="M239.25,467.5 H291.75" stroke="#5a4c4c" stroke-width="1" fill="none"/>
<path d="M239.25,462.9 V472.1 M291.75,462.9 V472.1" stroke="#5a4c4c" stroke-width="1" fill="none"/>
<text transform="translate(266.1,463.35) scale(0.9,1)" font-size="9.3" text-anchor="middle" fill="#000" stroke="#000" stroke-width="0.15">0.17%</text>
<path d="M324.80,535.11 L325.20,540.97 L325.60,543.76 L326.00,545.00 L326.40,543.87 L326.80,542.54 L327.20,543.31 L327.60,542.46 L328.00,542.88 L328.40,542.24 L328.80,543.93 L329.20,541.19 L329.60,540.04 L330.00,540.55 L330.40,538.92 L330.80,536.92 L331.20,537.92 L331.60,534.61 L332.00,532.87 L332.40,532.96 L332.80,528.05 L333.20,527.29 L333.60,530.36 L334.00,523.68 L334.40,525.35 L334.80,522.63 L335.20,518.34 L335.60,515.02 L336.00,516.07 L336.40,507.31 L336.80,514.10 L337.20,509.67 L337.60,508.89 L338.00,497.66 L338.40,498.12 L338.80,493.00 L339.20,486.22 L339.60,490.55 L340.00,482.58 L340.40,483.87 L340.80,479.70 L341.20,475.74 L341.60,477.07 L342.00,473.23 L342.40,467.22 L342.80,473.36 L343.30,469.70 L343.60,467.14 L344.00,473.93 L344.40,471.99 L344.80,473.80 L345.20,475.30 L345.60,470.88 L346.00,474.11 L346.40,465.01 L346.90,464.00 L347.20,463.49 L347.60,469.90 L348.00,475.10 L348.40,470.56 L348.80,478.34 L349.20,472.44 L349.60,474.06 L350.00,480.65 L350.40,478.51 L350.80,484.51 L351.20,484.13 L351.60,491.46 L352.00,493.19 L352.40,496.50 L352.80,496.73 L353.20,505.09 L353.60,505.23 L354.00,514.03 L354.40,511.58 L354.80,524.87 L355.20,522.09 L355.60,521.97 L356.00,527.19 L356.40,524.83 L356.80,529.48 L357.20,530.22 L357.60,532.53 L358.00,532.49 L358.40,536.41 L358.80,537.20 L359.20,537.01 L359.60,538.06 L360.00,539.68 L360.40,538.36 L360.80,541.64 L361.20,543.06 L361.60,542.12 L362.00,542.81 L362.40,542.78 L362.80,542.88 L363.20,543.99 L363.60,544.49 L364.00,543.53 L364.40,544.00 L364.80,543.94 L365.20,544.37 L365.60,544.30 L366.00,544.58 L366.40,544.83 L366.80,544.93 L367.20,544.98 L367.60,545.00 L368.00,545.00 L368.40,545.00 L368.80,545.00" fill="none" stroke="#ff0000" stroke-width="0.55" stroke-linejoin="round"/>
<path d="M324.80,535.39 L325.20,543.39 L325.60,544.43 L326.00,543.11 L326.40,543.85 L326.80,544.45 L327.20,542.79 L327.60,543.00 L328.00,542.15 L328.40,543.31 L328.80,542.30 L329.20,541.68 L329.60,540.85 L330.00,540.94 L330.40,539.36 L330.80,539.03 L331.20,538.25 L331.60,537.53 L332.00,534.67 L332.40,534.56 L332.80,533.37 L333.20,528.85 L333.60,526.99 L334.00,523.41 L334.40,523.94 L334.80,524.22 L335.20,519.18 L335.60,518.75 L336.00,512.63 L336.40,510.06 L336.80,508.85 L337.20,504.99 L337.60,502.08 L338.00,497.64 L338.40,499.19 L338.80,490.99 L339.20,491.13 L339.60,491.94 L340.00,480.62 L340.40,481.94 L340.80,486.33 L341.20,481.72 L341.60,475.99 L342.00,481.19 L342.40,471.06 L342.80,471.45 L343.20,473.71 L343.60,473.38 L344.00,466.05 L344.40,467.51 L344.80,465.66 L345.20,468.74 L345.60,467.47 L346.00,469.39 L346.40,462.42 L346.80,470.75 L347.20,464.41 L347.60,464.57 L348.00,468.28 L348.50,462.40 L348.80,462.61 L349.20,469.75 L349.60,473.57 L350.00,473.49 L350.40,483.43 L350.80,482.34 L351.20,480.01 L351.60,485.15 L352.00,490.41 L352.40,500.70 L352.80,495.28 L353.20,497.73 L353.60,499.05 L354.00,506.22 L354.40,508.80 L354.80,508.56 L355.20,519.87 L355.60,513.43 L356.00,522.97 L356.40,526.81 L356.80,523.75 L357.20,530.53 L357.60,529.35 L358.00,531.41 L358.40,531.88 L358.80,534.31 L359.20,535.80 L359.60,538.69 L360.00,536.36 L360.40,543.03 L360.80,538.61 L361.20,541.32 L361.60,539.44 L362.00,540.84 L362.40,542.19 L362.80,542.99 L363.20,544.03 L363.60,541.99 L364.00,543.04 L364.40,543.49 L364.80,543.04 L365.20,544.45 L365.60,544.54 L366.00,544.62 L366.40,544.61 L366.80,544.86 L367.20,544.79 L367.60,544.88 L368.00,545.00 L368.40,545.00 L368.80,545.00 L369.20,545.00 L369.60,545.00" fill="none" stroke="#00ffff" stroke-width="0.55" stroke-linejoin="round"/>
<path d="M324.5,445.5 H424.5" stroke="#7a7a7a" stroke-width="1" fill="none"/>
<path d="M324.5,545.5 H424.5" stroke="#9a9a9a" stroke-width="1" fill="none"/>
<path d="M324.5,445.0 V547.5" stroke="#7a7a7a" stroke-width="1" fill="none"/>
<path d="M424.5,445.0 V547.5" stroke="#666666" stroke-width="1" fill="none"/>
<path d="M322.5,545.5 H324.5 M322.5,537.7 H324.5 M322.5,529.9 H324.5 M322.5,522.1 H324.5 M322.5,514.3 H324.5 M322.5,506.5 H324.5 M322.5,498.7 H324.5 M322.5,490.9 H324.5 M322.5,483.1 H324.5 M322.5,475.3 H324.5 M322.5,467.5 H324.5 M322.5,459.7 H324.5 M322.5,451.9 H324.5" stroke="#333" stroke-width="0.8" fill="none"/>
<text transform="translate(317.3,468.0) rotate(-90)" font-size="8.3" text-anchor="middle" fill="#222">200</text>
<text transform="translate(317.3,506.5) rotate(-90)" font-size="8.3" text-anchor="middle" fill="#222">100</text>
<text transform="translate(317.3,541.5) rotate(-90)" font-size="8.3" text-anchor="middle" fill="#222">0</text>
<path d="M326.6,545.5 V547.1 M329.5,545.5 V547.1 M331.8,545.5 V547.1 M333.6,545.5 V547.1 M335.1,545.5 V547.1 M336.5,545.5 V547.1 M337.7,545.5 V547.1 M345.7,545.5 V547.1 M349.8,545.5 V547.1 M352.7,545.5 V547.1 M355.0,545.5 V547.1 M356.8,545.5 V547.1 M358.4,545.5 V547.1 M359.7,545.5 V547.1 M360.9,545.5 V547.1 M338.8,545.5 V548.0 M369.0,545.5 V547.1 M373.1,545.5 V547.1 M376.0,545.5 V547.1 M378.3,545.5 V547.1 M380.1,545.5 V547.1 M381.6,545.5 V547.1 M383.0,545.5 V547.1 M384.2,545.5 V547.1 M362.0,545.5 V548.0 M392.2,545.5 V547.1 M396.3,545.5 V547.1 M399.2,545.5 V547.1 M401.5,545.5 V547.1 M403.3,545.5 V547.1 M404.9,545.5 V547.1 M406.2,545.5 V547.1 M407.4,545.5 V547.1 M385.2,545.5 V548.0 M415.5,545.5 V547.1 M419.6,545.5 V547.1 M422.5,545.5 V547.1 M408.5,545.5 V548.0" stroke="#333" stroke-width="0.7" fill="none"/>
<text transform="translate(343.75,554.63) scale(0.8,1)" font-size="7.3" text-anchor="middle" fill="#000" stroke="#000" stroke-width="0.15">10<tspan font-size="4.38" dy="-2.92">3</tspan></text>
<text transform="translate(367.25,554.63) scale(0.8,1)" font-size="7.3" text-anchor="middle" fill="#000" stroke="#000" stroke-width="0.15">10<tspan font-size="4.38" dy="-2.92">4</tspan></text>
<text transform="translate(390.00,554.63) scale(0.8,1)" font-size="7.3" text-anchor="middle" fill="#000" stroke="#000" stroke-width="0.15">10<tspan font-size="4.38" dy="-2.92">5</tspan></text>
<text transform="translate(413.50,554.63) scale(0.8,1)" font-size="7.3" text-anchor="middle" fill="#000" stroke="#000" stroke-width="0.15">10<tspan font-size="4.38" dy="-2.92">6</tspan></text>
<path d="M368,467.5 H413.75" stroke="#5a4c4c" stroke-width="1" fill="none"/>
<path d="M368,462.9 V472.1 M413.75,462.9 V472.1" stroke="#5a4c4c" stroke-width="1" fill="none"/>
<text transform="translate(390.4,463.35) scale(0.9,1)" font-size="9.3" text-anchor="middle" fill="#000" stroke="#000" stroke-width="0.15">0.25%</text>
<path d="M477.00,545.00 L477.40,545.00 L477.80,545.00 L478.20,545.00 L478.60,545.00 L479.00,545.00 L479.40,545.00 L479.80,545.00 L480.20,545.00 L480.60,544.82 L481.00,545.00 L481.40,544.94 L481.80,544.94 L482.20,544.57 L482.60,544.99 L483.00,544.74 L483.40,545.00 L483.80,544.60 L484.20,544.42 L484.60,544.35 L485.00,544.63 L485.40,543.60 L485.80,543.78 L486.20,542.98 L486.60,543.19 L487.00,542.95 L487.40,543.42 L487.80,543.65 L488.20,542.56 L488.60,542.35 L489.00,541.41 L489.40,541.41 L489.80,542.13 L490.20,541.67 L490.60,540.34 L491.00,540.81 L491.40,540.57 L491.80,541.05 L492.20,536.10 L492.60,539.61 L493.00,539.27 L493.40,539.12 L493.80,538.65 L494.20,539.85 L494.60,538.94 L495.00,536.21 L495.40,536.54 L495.80,539.39 L496.20,537.50 L496.60,534.29 L497.00,535.14 L497.40,534.61 L497.80,535.61 L498.20,533.35 L498.60,532.34 L499.00,529.40 L499.40,533.16 L499.80,527.16 L500.20,530.95 L500.60,529.28 L501.00,525.07 L501.40,524.84 L501.80,527.77 L502.20,524.95 L502.60,528.46 L503.00,521.48 L503.40,522.79 L503.80,523.16 L504.20,519.96 L504.60,520.85 L505.00,522.91 L505.40,514.96 L505.80,519.79 L506.20,520.91 L506.60,512.69 L507.00,509.57 L507.40,513.41 L507.80,510.98 L508.20,508.50 L508.60,511.26 L509.00,508.36 L509.40,499.18 L509.80,500.95 L510.20,503.94 L510.60,503.91 L511.00,503.71 L511.40,502.60 L511.80,503.34 L512.20,497.96 L512.60,500.50 L513.00,499.12 L513.40,498.71 L513.80,494.99 L514.20,492.88 L514.60,491.15 L515.00,492.38 L515.40,489.89 L515.80,490.68 L516.20,491.49 L516.60,486.86 L517.00,486.75 L517.40,483.99 L517.80,486.27 L518.20,485.64 L518.60,484.28 L519.00,483.54 L519.30,483.60 L519.80,483.94 L520.20,484.01 L520.60,483.58 L521.00,485.26 L521.40,483.57 L521.80,485.19 L522.20,488.03 L522.60,494.87 L523.00,487.83 L523.40,496.16 L523.80,496.02 L524.20,490.50 L524.60,496.70 L525.00,494.82 L525.40,495.46 L525.80,501.05 L526.20,501.42 L526.60,499.14 L527.00,503.38 L527.40,504.53 L527.80,499.84 L528.20,507.60 L528.60,503.11 L529.00,505.97 L529.40,518.71 L529.80,515.61 L530.20,511.11 L530.60,517.38 L531.00,512.53 L531.40,520.67 L531.80,519.13 L532.20,519.68 L532.60,522.00 L533.00,518.41 L533.40,520.37 L533.80,523.34 L534.20,525.51 L534.60,521.88 L535.00,525.37 L535.40,527.28 L535.80,528.29 L536.20,529.86 L536.60,530.30 L537.00,535.07 L537.40,530.33 L537.80,530.78 L538.20,534.37 L538.60,533.33 L539.00,535.60 L539.40,537.13 L539.80,538.70 L540.20,540.05 L540.60,538.04 L541.00,537.57 L541.40,540.40 L541.80,538.66 L542.20,540.74 L542.60,540.84 L543.00,540.40 L543.40,540.25 L543.80,541.71 L544.20,542.40 L544.60,543.21 L545.00,542.02 L545.40,542.99 L545.80,542.64 L546.20,543.08 L546.60,543.81 L547.00,542.85 L547.40,544.39 L547.80,544.76 L548.20,544.84 L548.60,544.43 L549.00,544.69 L549.40,544.96 L549.80,545.00 L550.20,545.00 L550.60,545.00 L551.00,545.00" fill="none" stroke="#ff0000" stroke-width="0.55" stroke-linejoin="round"/>
<path d="M453.00,545.00 L453.40,545.00 L453.80,545.00 L454.20,545.00 L454.60,545.00 L455.00,545.00 L455.40,544.21 L455.80,544.61 L456.20,543.80 L456.60,543.45 L457.00,543.98 L457.40,543.21 L457.80,544.49 L458.20,542.26 L458.60,542.13 L459.00,544.25 L459.40,541.41 L459.80,540.15 L460.20,539.71 L460.60,540.21 L461.00,538.99 L461.40,537.94 L461.80,537.67 L462.20,535.19 L462.60,536.90 L463.00,534.04 L463.40,534.32 L463.80,532.74 L464.20,533.26 L464.60,528.98 L465.00,529.97 L465.40,527.08 L465.80,524.79 L466.20,522.64 L466.60,522.00 L467.00,518.41 L467.40,517.24 L467.80,511.31 L468.20,514.91 L468.60,509.89 L469.00,509.11 L469.40,505.11 L469.80,499.62 L470.20,499.86 L470.60,493.51 L471.00,490.83 L471.40,490.58 L471.80,485.19 L472.20,476.24 L472.60,472.49 L473.00,471.95 L473.40,469.01 L473.80,467.62 L474.20,463.23 L474.60,464.28 L475.10,462.40 L475.40,465.21 L475.80,471.61 L476.20,467.87 L476.60,475.34 L477.00,469.53 L477.40,472.08 L477.90,471.40 L478.20,473.39 L478.60,476.88 L479.00,475.00 L479.40,486.26 L479.80,483.20 L480.20,481.20 L480.60,486.22 L481.00,481.23 L481.40,484.85 L481.80,481.76 L482.20,484.35 L482.50,479.50 L483.00,477.55 L483.40,487.27 L483.80,495.83 L484.20,495.03 L484.60,492.14 L485.00,490.49 L485.40,477.60 L485.80,483.66 L486.20,476.80 L486.60,475.50 L487.00,475.83 L487.40,493.04 L487.80,487.02 L488.20,490.16 L488.60,490.01 L489.00,500.77 L489.40,499.33 L489.80,500.72 L490.20,511.05 L490.60,512.03 L491.00,516.73 L491.40,522.11 L491.80,523.93 L492.20,526.15 L492.60,528.73 L493.00,532.71 L493.40,535.27 L493.80,534.91 L494.20,537.15 L494.60,542.52 L495.00,540.15 L495.40,541.66 L495.80,542.21 L496.20,542.01 L496.60,544.07 L497.00,544.09 L497.40,544.57 L497.80,544.34 L498.20,544.74 L498.60,545.00 L499.00,545.00 L499.40,545.00 L499.80,545.00" fill="none" stroke="#00ffff" stroke-width="0.55" stroke-linejoin="round"/>
<path d="M451.5,445.5 H552.5" stroke="#7a7a7a" stroke-width="1" fill="none"/>
<path d="M451.5,545.5 H552.5" stroke="#9a9a9a" stroke-width="1" fill="none"/>
<path d="M451.5,445.0 V547.5" stroke="#7a7a7a" stroke-width="1" fill="none"/>
<path d="M552.5,445.0 V547.5" stroke="#666666" stroke-width="1" fill="none"/>
<path d="M449.5,545.5 H451.5 M449.5,536.6 H451.5 M449.5,527.7 H451.5 M449.5,518.8 H451.5 M449.5,509.9 H451.5 M449.5,501.0 H451.5 M449.5,492.1 H451.5 M449.5,483.2 H451.5 M449.5,474.3 H451.5 M449.5,465.4 H451.5 M449.5,456.5 H451.5 M449.5,447.6 H451.5" stroke="#333" stroke-width="0.8" fill="none"/>
<text transform="translate(444.3,468.0) rotate(-90)" font-size="8.3" text-anchor="middle" fill="#222">200</text>
<text transform="translate(444.3,506.5) rotate(-90)" font-size="8.3" text-anchor="middle" fill="#222">100</text>
<text transform="translate(444.3,541.5) rotate(-90)" font-size="8.3" text-anchor="middle" fill="#222">0</text>
<path d="M455.6,545.5 V547.1 M459.7,545.5 V547.1 M462.6,545.5 V547.1 M464.9,545.5 V547.1 M466.7,545.5 V547.1 M468.3,545.5 V547.1 M469.6,545.5 V547.1 M470.8,545.5 V547.1 M478.9,545.5 V547.1 M483.0,545.5 V547.1 M485.9,545.5 V547.1 M488.2,545.5 V547.1 M490.0,545.5 V547.1 M491.6,545.5 V547.1 M492.9,545.5 V547.1 M494.1,545.5 V547.1 M471.9,545.5 V548.0 M502.2,545.5 V547.1 M506.3,545.5 V547.1 M509.3,545.5 V547.1 M511.5,545.5 V547.1 M513.4,545.5 V547.1 M514.9,545.5 V547.1 M516.3,545.5 V547.1 M517.5,545.5 V547.1 M495.2,545.5 V548.0 M525.6,545.5 V547.1 M529.7,545.5 V547.1 M532.6,545.5 V547.1 M534.9,545.5 V547.1 M536.7,545.5 V547.1 M538.3,545.5 V547.1 M539.6,545.5 V547.1 M540.8,545.5 V547.1 M518.5,545.5 V548.0 M548.9,545.5 V547.1 M541.9,545.5 V548.0" stroke="#333" stroke-width="0.7" fill="none"/>
<text transform="translate(476.88,554.63) scale(0.8,1)" font-size="7.3" text-anchor="middle" fill="#000" stroke="#000" stroke-width="0.15">10<tspan font-size="4.38" dy="-2.92">3</tspan></text>
<text transform="translate(500.38,554.63) scale(0.8,1)" font-size="7.3" text-anchor="middle" fill="#000" stroke="#000" stroke-width="0.15">10<tspan font-size="4.38" dy="-2.92">4</tspan></text>
<text transform="translate(523.50,554.63) scale(0.8,1)" font-size="7.3" text-anchor="middle" fill="#000" stroke="#000" stroke-width="0.15">10<tspan font-size="4.38" dy="-2.92">5</tspan></text>
<text transform="translate(546.88,554.63) scale(0.8,1)" font-size="7.3" text-anchor="middle" fill="#000" stroke="#000" stroke-width="0.15">10<tspan font-size="4.38" dy="-2.92">6</tspan></text>
<path d="M500.5,467.5 H546.75" stroke="#5a4c4c" stroke-width="1" fill="none"/>
<path d="M500.5,462.9 V472.1 M546.75,462.9 V472.1" stroke="#5a4c4c" stroke-width="1" fill="none"/>
<text transform="translate(523.75,463.35) scale(0.9,1)" font-size="9.3" text-anchor="middle" fill="#000" stroke="#000" stroke-width="0.15">95.67%</text>
<path d="M614.50,546.00 L614.90,546.00 L615.30,546.00 L615.70,546.00 L616.10,546.00 L616.50,546.00 L616.90,545.94 L617.30,545.75 L617.70,545.46 L618.10,544.29 L618.50,544.47 L618.90,543.03 L619.30,545.04 L619.70,541.41 L620.10,539.11 L620.50,537.62 L620.90,538.04 L621.30,532.26 L621.70,533.11 L622.10,532.30 L622.50,532.11 L622.90,526.08 L623.30,524.81 L623.70,521.95 L624.10,510.42 L624.50,519.74 L624.90,513.83 L625.30,508.28 L625.70,506.78 L626.10,504.70 L626.50,506.11 L626.90,498.49 L627.30,496.07 L627.70,492.83 L628.10,496.71 L628.50,483.77 L628.90,488.21 L629.30,481.90 L629.70,480.53 L630.10,483.78 L630.50,476.94 L630.90,475.84 L631.30,464.10 L631.80,463.30 L632.10,464.21 L632.50,465.97 L632.90,469.09 L633.30,472.09 L633.70,470.64 L634.10,478.27 L634.50,482.21 L634.90,487.00 L635.30,484.92 L635.70,492.73 L636.10,494.64 L636.50,499.07 L636.90,501.00 L637.30,508.23 L637.70,508.33 L638.10,507.83 L638.50,505.70 L638.90,513.86 L639.30,502.26 L639.70,516.90 L640.10,524.32 L640.50,520.96 L640.90,523.79 L641.30,526.35 L641.70,531.28 L642.10,530.57 L642.50,531.49 L642.90,532.50 L643.30,533.73 L643.70,538.89 L644.10,538.49 L644.50,537.22 L644.90,540.29 L645.30,539.76 L645.70,541.28 L646.10,543.23 L646.50,543.54 L646.90,543.74 L647.30,543.97 L647.70,544.64 L648.10,545.83 L648.50,545.94 L648.90,546.00 L649.30,546.00 L649.70,546.00" fill="none" stroke="#ff0000" stroke-width="0.55" stroke-linejoin="round"/>
<path d="M596.00,546.00 L596.40,546.00 L596.80,546.00 L597.20,546.00 L597.60,546.00 L598.00,546.00 L598.40,546.00 L598.80,546.00 L599.20,545.86 L599.60,545.38 L600.00,545.36 L600.40,544.73 L600.80,544.58 L601.20,543.75 L601.60,542.84 L602.00,543.75 L602.40,542.07 L602.80,541.42 L603.20,541.90 L603.60,538.33 L604.00,538.61 L604.40,536.15 L604.80,537.08 L605.20,532.85 L605.60,528.81 L606.00,527.27 L606.40,522.20 L606.80,525.96 L607.20,512.58 L607.60,513.69 L608.00,516.34 L608.40,514.51 L608.80,513.09 L609.20,512.10 L609.60,497.57 L610.00,501.59 L610.40,499.24 L610.80,494.77 L611.20,492.95 L611.60,486.97 L612.00,484.20 L612.40,480.70 L612.80,484.57 L613.20,497.93 L613.60,499.82 L614.00,507.20 L614.40,505.75 L614.80,506.55 L615.20,508.48 L615.60,507.23 L616.00,504.88 L616.40,512.55 L616.80,510.55 L617.20,511.37 L617.60,513.86 L618.00,514.10 L618.40,517.35 L618.80,517.04 L619.20,513.79 L619.60,512.93 L620.00,521.12 L620.40,514.63 L620.80,512.31 L621.20,511.43 L621.60,508.59 L622.00,511.55 L622.40,506.22 L622.80,503.59 L623.10,502.20 L623.60,505.21 L624.00,506.89 L624.40,507.93 L624.80,512.25 L625.20,501.65 L625.60,505.70 L626.10,503.00 L626.40,503.43 L626.80,508.45 L627.20,515.59 L627.60,515.50 L628.00,518.14 L628.40,520.08 L628.80,522.22 L629.20,525.62 L629.60,529.75 L630.00,532.06 L630.40,534.01 L630.80,536.01 L631.20,538.80 L631.60,537.80 L632.00,538.22 L632.40,539.89 L632.80,542.66 L633.20,543.17 L633.60,543.26 L634.00,545.04 L634.40,544.67 L634.80,545.79 L635.20,545.70 L635.60,546.00 L636.00,546.00 L636.40,546.00 L636.80,546.00" fill="none" stroke="#00ffff" stroke-width="0.55" stroke-linejoin="round"/>
<path d="M578.5,446.5 H679.5" stroke="#7a7a7a" stroke-width="1" fill="none"/>
<path d="M578.5,546.5 H679.5" stroke="#9a9a9a" stroke-width="1" fill="none"/>
<path d="M578.5,446.0 V548.5" stroke="#7a7a7a" stroke-width="1" fill="none"/>
<path d="M679.5,446.0 V548.5" stroke="#666666" stroke-width="1" fill="none"/>
<path d="M576.5,546.5 H578.5 M576.5,540.5 H578.5 M576.5,534.5 H578.5 M576.5,528.5 H578.5 M576.5,522.5 H578.5 M576.5,516.5 H578.5 M576.5,510.5 H578.5 M576.5,504.5 H578.5 M576.5,498.5 H578.5 M576.5,492.5 H578.5 M576.5,486.5 H578.5 M576.5,480.5 H578.5 M576.5,474.5 H578.5 M576.5,468.5 H578.5 M576.5,462.5 H578.5 M576.5,456.5 H578.5 M576.5,450.5 H578.5" stroke="#333" stroke-width="0.8" fill="none"/>
<text transform="translate(571.3,455.75) rotate(-90)" font-size="8.3" text-anchor="middle" fill="#222">300</text>
<text transform="translate(571.3,485.75) rotate(-90)" font-size="8.3" text-anchor="middle" fill="#222">200</text>
<text transform="translate(571.3,515.75) rotate(-90)" font-size="8.3" text-anchor="middle" fill="#222">100</text>
<text transform="translate(571.3,544.5) rotate(-90)" font-size="8.3" text-anchor="middle" fill="#222">0</text>
<path d="M578.7,546.5 V548.1 M586.7,546.5 V548.1 M590.8,546.5 V548.1 M593.7,546.5 V548.1 M595.9,546.5 V548.1 M597.7,546.5 V548.1 M599.3,546.5 V548.1 M600.6,546.5 V548.1 M601.8,546.5 V548.1 M579.8,546.5 V549.0 M609.8,546.5 V548.1 M613.9,546.5 V548.1 M616.8,546.5 V548.1 M619.0,546.5 V548.1 M620.9,546.5 V548.1 M622.4,546.5 V548.1 M623.8,546.5 V548.1 M624.9,546.5 V548.1 M602.9,546.5 V549.0 M633.0,546.5 V548.1 M637.0,546.5 V548.1 M639.9,546.5 V548.1 M642.2,546.5 V548.1 M644.0,546.5 V548.1 M645.5,546.5 V548.1 M646.9,546.5 V548.1 M648.1,546.5 V548.1 M626.0,546.5 V549.0 M656.1,546.5 V548.1 M660.2,546.5 V548.1 M663.0,546.5 V548.1 M665.3,546.5 V548.1 M667.1,546.5 V548.1 M668.7,546.5 V548.1 M670.0,546.5 V548.1 M671.2,546.5 V548.1 M649.1,546.5 V549.0 M679.2,546.5 V548.1 M672.2,546.5 V549.0" stroke="#333" stroke-width="0.7" fill="none"/>
<text transform="translate(584.75,554.63) scale(0.8,1)" font-size="7.3" text-anchor="middle" fill="#000" stroke="#000" stroke-width="0.15">10<tspan font-size="4.38" dy="-2.92">2</tspan></text>
<text transform="translate(608.12,554.63) scale(0.8,1)" font-size="7.3" text-anchor="middle" fill="#000" stroke="#000" stroke-width="0.15">10<tspan font-size="4.38" dy="-2.92">3</tspan></text>
<text transform="translate(631.62,554.63) scale(0.8,1)" font-size="7.3" text-anchor="middle" fill="#000" stroke="#000" stroke-width="0.15">10<tspan font-size="4.38" dy="-2.92">4</tspan></text>
<text transform="translate(654.75,554.63) scale(0.8,1)" font-size="7.3" text-anchor="middle" fill="#000" stroke="#000" stroke-width="0.15">10<tspan font-size="4.38" dy="-2.92">5</tspan></text>
<text transform="translate(677.25,554.63) scale(0.8,1)" font-size="7.3" text-anchor="middle" fill="#000" stroke="#000" stroke-width="0.15">10<tspan font-size="4.38" dy="-2.92">6</tspan></text>
<path d="M638.5,467.5 H675.5" stroke="#5a4c4c" stroke-width="1" fill="none"/>
<path d="M638.5,462.9 V472.1 M675.5,462.9 V472.1" stroke="#5a4c4c" stroke-width="1" fill="none"/>
<text transform="translate(656.4,463.35) scale(0.9,1)" font-size="9.3" text-anchor="middle" fill="#000" stroke="#000" stroke-width="0.15">15.96%</text>
</g>
</svg></div></body></html>
